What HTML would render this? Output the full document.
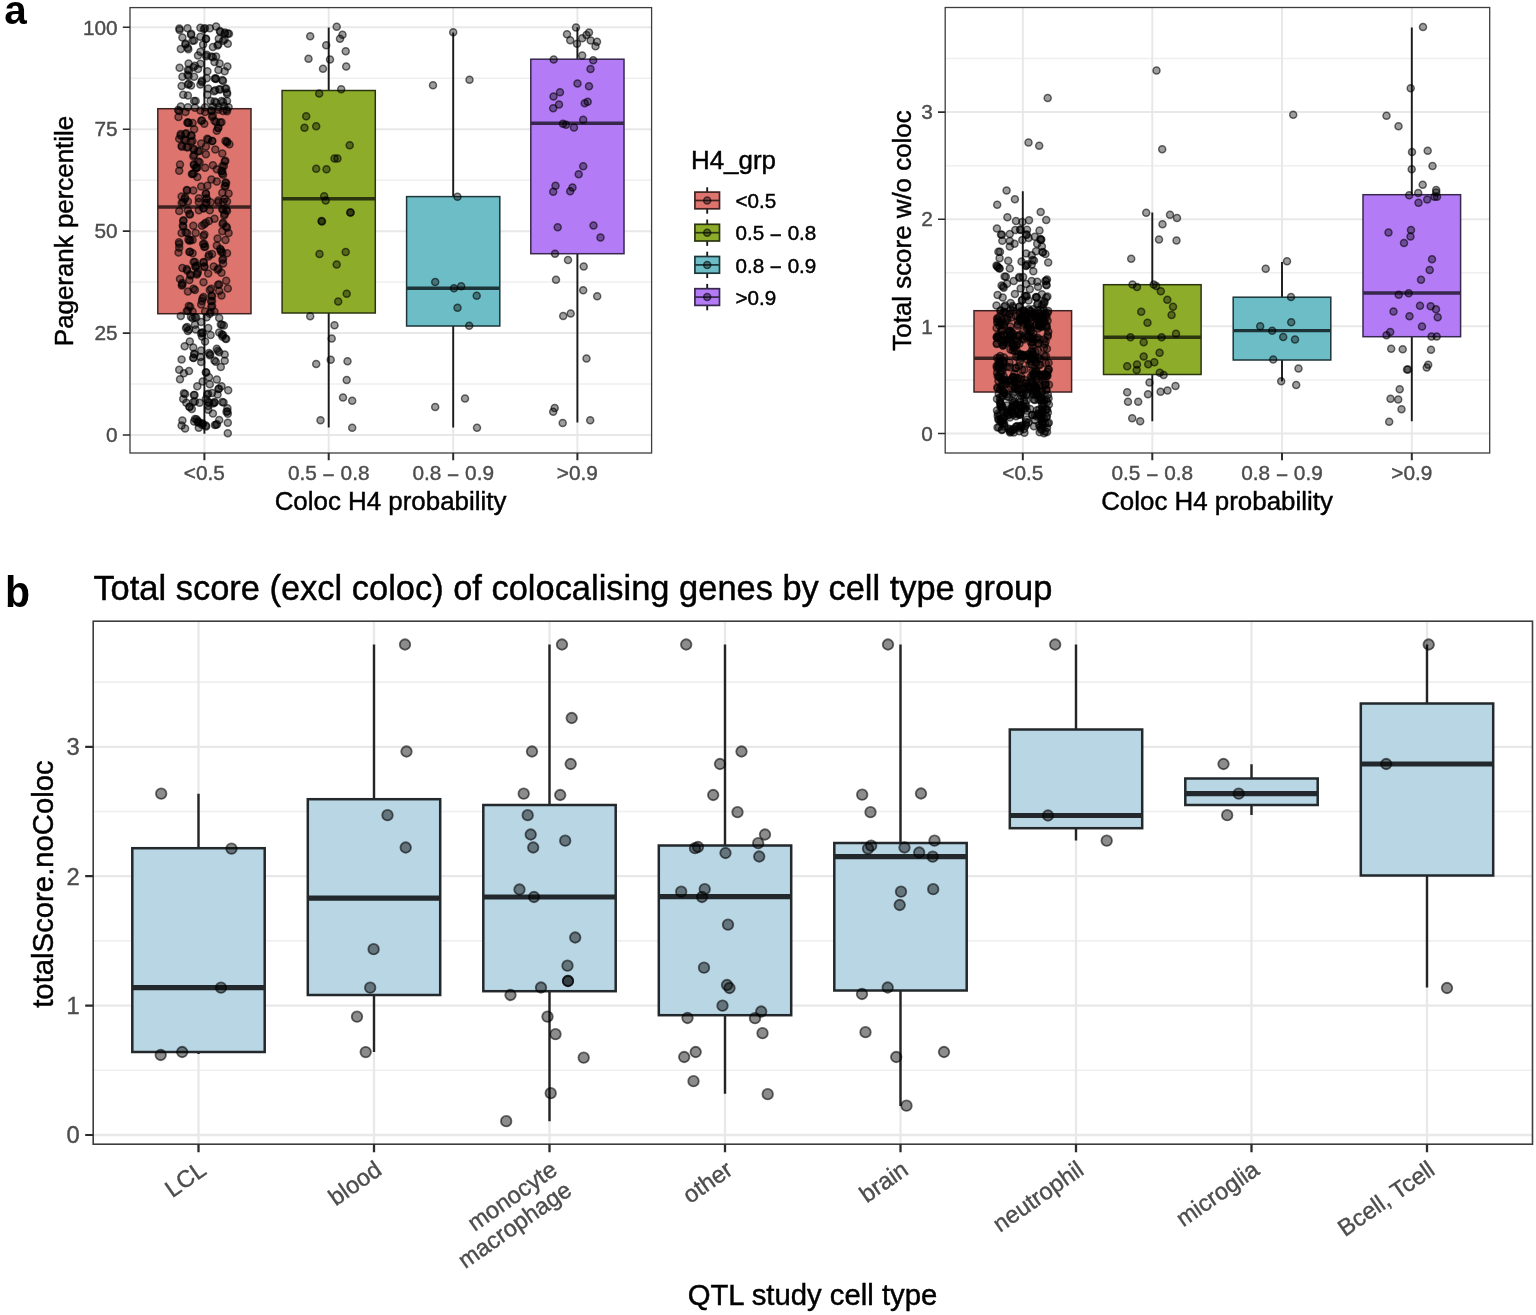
<!DOCTYPE html>
<html lang="en"><head><meta charset="utf-8"><title>Figure: colocalisation scores</title>
<style>html,body{margin:0;padding:0;background:#fff;}body{width:1536px;height:1315px;overflow:hidden;}svg{display:block;}text{font-family:'Liberation Sans', sans-serif;}</style>
</head><body>
<svg width="1536" height="1315" viewBox="0 0 1536 1315" role="img" aria-label="Box plots of Pagerank percentile and total score by coloc H4 probability group, and total score by QTL study cell type">
<rect width="1536" height="1315" fill="#fff"/>
<g id="panel-a-left">
<rect x="130" y="7.6" width="521.6" height="445.4" fill="#fff"/>
<g stroke="#efefef" stroke-width="1.5">
<line x1="130" x2="651.6" y1="384.07" y2="384.07"/>
<line x1="130" x2="651.6" y1="282.12" y2="282.12"/>
<line x1="130" x2="651.6" y1="180.17" y2="180.17"/>
<line x1="130" x2="651.6" y1="78.22" y2="78.22"/>
</g>
<g stroke="#e8e8e8" stroke-width="2.0">
<line x1="130" x2="651.6" y1="435.05" y2="435.05"/>
<line x1="130" x2="651.6" y1="333.1" y2="333.1"/>
<line x1="130" x2="651.6" y1="231.15" y2="231.15"/>
<line x1="130" x2="651.6" y1="129.2" y2="129.2"/>
<line x1="130" x2="651.6" y1="27.25" y2="27.25"/>
<line x1="204.4" x2="204.4" y1="7.6" y2="453"/>
<line x1="328.7" x2="328.7" y1="7.6" y2="453"/>
<line x1="453.2" x2="453.2" y1="7.6" y2="453"/>
<line x1="577.4" x2="577.4" y1="7.6" y2="453"/>
</g>
<g fill="none">
<path d="M204.4 27.2V108.7M204.4 313.7V433.7" stroke="#1a1a1a" stroke-width="1.9"/>
<rect x="157.8" y="108.7" width="93.2" height="205" fill="#de746e" stroke="#3f2321" stroke-width="1.5"/>
<line x1="157.8" x2="251" y1="207" y2="207" stroke="#3f2321" stroke-width="3.4"/>
</g>
<g fill="none">
<path d="M328.7 27.5V90.5M328.7 313V427.6" stroke="#1a1a1a" stroke-width="1.9"/>
<rect x="282.1" y="90.5" width="93.2" height="222.5" fill="#8cac2a" stroke="#2b3510" stroke-width="1.5"/>
<line x1="282.1" x2="375.3" y1="198.7" y2="198.7" stroke="#2b3510" stroke-width="3.4"/>
</g>
<g fill="none">
<path d="M453.2 32.5V196.6M453.2 326V427.6" stroke="#1a1a1a" stroke-width="1.9"/>
<rect x="406.6" y="196.6" width="93.2" height="129.4" fill="#6cbdc6" stroke="#1d3539" stroke-width="1.5"/>
<line x1="406.6" x2="499.8" y1="288.3" y2="288.3" stroke="#1d3539" stroke-width="3.4"/>
</g>
<g fill="none">
<path d="M577.4 27.2V59.2M577.4 253.7V422.6" stroke="#1a1a1a" stroke-width="1.9"/>
<rect x="530.8" y="59.2" width="93.2" height="194.5" fill="#b47bf7" stroke="#37284d" stroke-width="1.5"/>
<line x1="530.8" x2="624" y1="123.3" y2="123.3" stroke="#37284d" stroke-width="3.4"/>
</g>
<g fill="#000" fill-opacity="0.38" stroke="#000" stroke-opacity="0.58" stroke-width="1.5">
<circle cx="179.6" cy="30.1" r="3.5"/>
<circle cx="179.4" cy="28.6" r="3.5"/>
<circle cx="187.5" cy="28.2" r="3.5"/>
<circle cx="200.4" cy="27.8" r="3.5"/>
<circle cx="203.9" cy="29" r="3.5"/>
<circle cx="205" cy="28.3" r="3.5"/>
<circle cx="209.8" cy="28.2" r="3.5"/>
<circle cx="216.1" cy="26.6" r="3.5"/>
<circle cx="220.4" cy="32.1" r="3.5"/>
<circle cx="219.9" cy="31.1" r="3.5"/>
<circle cx="224.7" cy="33.7" r="3.5"/>
<circle cx="224.9" cy="32.6" r="3.5"/>
<circle cx="229" cy="33.7" r="3.5"/>
<circle cx="227.8" cy="33.5" r="3.5"/>
<circle cx="191" cy="34.8" r="3.5"/>
<circle cx="191.2" cy="33.8" r="3.5"/>
<circle cx="182.4" cy="37.6" r="3.5"/>
<circle cx="200.4" cy="36.8" r="3.5"/>
<circle cx="205.9" cy="39.1" r="3.5"/>
<circle cx="206.1" cy="38.7" r="3.5"/>
<circle cx="218.8" cy="38.8" r="3.5"/>
<circle cx="223.1" cy="40.7" r="3.5"/>
<circle cx="224.6" cy="39.4" r="3.5"/>
<circle cx="227.8" cy="43.8" r="3.5"/>
<circle cx="192.6" cy="40.7" r="3.5"/>
<circle cx="194.1" cy="40.4" r="3.5"/>
<circle cx="185.5" cy="44.6" r="3.5"/>
<circle cx="185.5" cy="43.5" r="3.5"/>
<circle cx="203.1" cy="44.6" r="3.5"/>
<circle cx="212.9" cy="47" r="3.5"/>
<circle cx="217.6" cy="45.4" r="3.5"/>
<circle cx="218.3" cy="44.4" r="3.5"/>
<circle cx="180.8" cy="48.9" r="3.5"/>
<circle cx="188.3" cy="49.3" r="3.5"/>
<circle cx="187.7" cy="47.8" r="3.5"/>
<circle cx="200.4" cy="51.7" r="3.5"/>
<circle cx="198" cy="55.6" r="3.5"/>
<circle cx="206.7" cy="54.8" r="3.5"/>
<circle cx="206.1" cy="56.3" r="3.5"/>
<circle cx="211.4" cy="56.4" r="3.5"/>
<circle cx="212.9" cy="57.2" r="3.5"/>
<circle cx="216.1" cy="56.4" r="3.5"/>
<circle cx="214.5" cy="61.9" r="3.5"/>
<circle cx="219.6" cy="63.4" r="3.5"/>
<circle cx="227.4" cy="66.6" r="3.5"/>
<circle cx="188.6" cy="63.4" r="3.5"/>
<circle cx="194.9" cy="65.8" r="3.5"/>
<circle cx="193.3" cy="67.2" r="3.5"/>
<circle cx="200.4" cy="63.8" r="3.5"/>
<circle cx="179.6" cy="67.7" r="3.5"/>
<circle cx="187.9" cy="69.7" r="3.5"/>
<circle cx="189.1" cy="70.6" r="3.5"/>
<circle cx="198" cy="68.9" r="3.5"/>
<circle cx="207.4" cy="71.3" r="3.5"/>
<circle cx="218.4" cy="70.1" r="3.5"/>
<circle cx="224.7" cy="71.3" r="3.5"/>
<circle cx="182.4" cy="76.7" r="3.5"/>
<circle cx="188.6" cy="76" r="3.5"/>
<circle cx="187.6" cy="74.7" r="3.5"/>
<circle cx="194.1" cy="76.7" r="3.5"/>
<circle cx="206.7" cy="78.3" r="3.5"/>
<circle cx="202" cy="80.7" r="3.5"/>
<circle cx="201.7" cy="81.9" r="3.5"/>
<circle cx="215.7" cy="78.3" r="3.5"/>
<circle cx="215.9" cy="79.1" r="3.5"/>
<circle cx="214.8" cy="78.4" r="3.5"/>
<circle cx="222.3" cy="79.9" r="3.5"/>
<circle cx="223" cy="80.9" r="3.5"/>
<circle cx="181.6" cy="86.1" r="3.5"/>
<circle cx="187.9" cy="84.6" r="3.5"/>
<circle cx="188.8" cy="83.7" r="3.5"/>
<circle cx="191" cy="85.4" r="3.5"/>
<circle cx="200.4" cy="84.6" r="3.5"/>
<circle cx="208.2" cy="88.5" r="3.5"/>
<circle cx="214.1" cy="91.2" r="3.5"/>
<circle cx="215.3" cy="90.3" r="3.5"/>
<circle cx="219.2" cy="89.3" r="3.5"/>
<circle cx="220.2" cy="89.5" r="3.5"/>
<circle cx="226.2" cy="88.5" r="3.5"/>
<circle cx="225.2" cy="88.8" r="3.5"/>
<circle cx="227" cy="92.4" r="3.5"/>
<circle cx="227.1" cy="93.9" r="3.5"/>
<circle cx="183.2" cy="94.8" r="3.5"/>
<circle cx="187.9" cy="95.5" r="3.5"/>
<circle cx="207.4" cy="94.8" r="3.5"/>
<circle cx="194.1" cy="101" r="3.5"/>
<circle cx="195.7" cy="101" r="3.5"/>
<circle cx="210.6" cy="101" r="3.5"/>
<circle cx="216.1" cy="102.6" r="3.5"/>
<circle cx="214.6" cy="101.5" r="3.5"/>
<circle cx="221.5" cy="101" r="3.5"/>
<circle cx="223.1" cy="102.1" r="3.5"/>
<circle cx="227" cy="101" r="3.5"/>
<circle cx="180.8" cy="106.6" r="3.5"/>
<circle cx="187.9" cy="107.3" r="3.5"/>
<circle cx="194.9" cy="107.7" r="3.5"/>
<circle cx="205.1" cy="107.3" r="3.5"/>
<circle cx="212.9" cy="106.6" r="3.5"/>
<circle cx="218.4" cy="107.3" r="3.5"/>
<circle cx="223.9" cy="105.8" r="3.5"/>
<circle cx="228.6" cy="107.3" r="3.5"/>
<circle cx="179.2" cy="110.9" r="3.5"/>
<circle cx="178.1" cy="110" r="3.5"/>
<circle cx="185.5" cy="112" r="3.5"/>
<circle cx="200.4" cy="110.5" r="3.5"/>
<circle cx="205.1" cy="112" r="3.5"/>
<circle cx="211.4" cy="111.3" r="3.5"/>
<circle cx="211.5" cy="110.2" r="3.5"/>
<circle cx="218.4" cy="109.7" r="3.5"/>
<circle cx="223.1" cy="110.9" r="3.5"/>
<circle cx="227" cy="111.3" r="3.5"/>
<circle cx="226.5" cy="109.8" r="3.5"/>
<circle cx="178.5" cy="117.1" r="3.5"/>
<circle cx="212.1" cy="116.7" r="3.5"/>
<circle cx="212.8" cy="115.4" r="3.5"/>
<circle cx="214.5" cy="120.7" r="3.5"/>
<circle cx="216.1" cy="122" r="3.5"/>
<circle cx="187.9" cy="122.2" r="3.5"/>
<circle cx="188.8" cy="123.1" r="3.5"/>
<circle cx="187.4" cy="122.8" r="3.5"/>
<circle cx="192.6" cy="123" r="3.5"/>
<circle cx="201.2" cy="120.7" r="3.5"/>
<circle cx="202" cy="120.6" r="3.5"/>
<circle cx="204.3" cy="123.8" r="3.5"/>
<circle cx="221.5" cy="122.2" r="3.5"/>
<circle cx="220.1" cy="122.6" r="3.5"/>
<circle cx="218.4" cy="127.7" r="3.5"/>
<circle cx="217.9" cy="128.1" r="3.5"/>
<circle cx="216.8" cy="130.8" r="3.5"/>
<circle cx="194.1" cy="129.3" r="3.5"/>
<circle cx="180.8" cy="134" r="3.5"/>
<circle cx="180.6" cy="135.4" r="3.5"/>
<circle cx="186.3" cy="133.2" r="3.5"/>
<circle cx="185.3" cy="134.1" r="3.5"/>
<circle cx="191" cy="135.5" r="3.5"/>
<circle cx="191.6" cy="135.7" r="3.5"/>
<circle cx="179.2" cy="138.7" r="3.5"/>
<circle cx="185.5" cy="140.2" r="3.5"/>
<circle cx="184.2" cy="139.2" r="3.5"/>
<circle cx="191" cy="141.8" r="3.5"/>
<circle cx="192.5" cy="141" r="3.5"/>
<circle cx="208.2" cy="139.5" r="3.5"/>
<circle cx="207.2" cy="138.8" r="3.5"/>
<circle cx="212.1" cy="141" r="3.5"/>
<circle cx="212.3" cy="141.1" r="3.5"/>
<circle cx="201.2" cy="143.4" r="3.5"/>
<circle cx="227" cy="142.6" r="3.5"/>
<circle cx="225.4" cy="141" r="3.5"/>
<circle cx="227" cy="141.6" r="3.5"/>
<circle cx="229.4" cy="144.2" r="3.5"/>
<circle cx="181.6" cy="145.7" r="3.5"/>
<circle cx="181.9" cy="146.7" r="3.5"/>
<circle cx="187.9" cy="147.3" r="3.5"/>
<circle cx="186.6" cy="147.3" r="3.5"/>
<circle cx="194.1" cy="148.9" r="3.5"/>
<circle cx="193.8" cy="149.8" r="3.5"/>
<circle cx="198" cy="151.2" r="3.5"/>
<circle cx="199.5" cy="150.9" r="3.5"/>
<circle cx="205.9" cy="146.5" r="3.5"/>
<circle cx="215.3" cy="149.6" r="3.5"/>
<circle cx="222.3" cy="153.6" r="3.5"/>
<circle cx="205.9" cy="154.3" r="3.5"/>
<circle cx="194.1" cy="155.1" r="3.5"/>
<circle cx="193.3" cy="156.3" r="3.5"/>
<circle cx="180" cy="164.5" r="3.5"/>
<circle cx="179.2" cy="170.8" r="3.5"/>
<circle cx="199.6" cy="162.2" r="3.5"/>
<circle cx="198.1" cy="161.6" r="3.5"/>
<circle cx="194.1" cy="165.3" r="3.5"/>
<circle cx="193.8" cy="164.3" r="3.5"/>
<circle cx="196.5" cy="167.7" r="3.5"/>
<circle cx="197.1" cy="167.7" r="3.5"/>
<circle cx="195.7" cy="167.4" r="3.5"/>
<circle cx="205.1" cy="167.7" r="3.5"/>
<circle cx="212.9" cy="165.3" r="3.5"/>
<circle cx="216.8" cy="169.2" r="3.5"/>
<circle cx="224.7" cy="161.4" r="3.5"/>
<circle cx="225.3" cy="160.8" r="3.5"/>
<circle cx="223.9" cy="166.1" r="3.5"/>
<circle cx="222.5" cy="166" r="3.5"/>
<circle cx="222.3" cy="170.8" r="3.5"/>
<circle cx="221.4" cy="171.2" r="3.5"/>
<circle cx="223.1" cy="174.7" r="3.5"/>
<circle cx="222.2" cy="173.5" r="3.5"/>
<circle cx="192.6" cy="173.9" r="3.5"/>
<circle cx="193.8" cy="173.4" r="3.5"/>
<circle cx="191.9" cy="174.1" r="3.5"/>
<circle cx="197.3" cy="177.1" r="3.5"/>
<circle cx="211.4" cy="179.4" r="3.5"/>
<circle cx="216.8" cy="181.4" r="3.5"/>
<circle cx="225.5" cy="182.5" r="3.5"/>
<circle cx="226.1" cy="183.1" r="3.5"/>
<circle cx="224.7" cy="186.5" r="3.5"/>
<circle cx="225.6" cy="185.7" r="3.5"/>
<circle cx="201.2" cy="186.5" r="3.5"/>
<circle cx="207.4" cy="185.7" r="3.5"/>
<circle cx="187.1" cy="190.4" r="3.5"/>
<circle cx="186.8" cy="189.9" r="3.5"/>
<circle cx="193.3" cy="190.4" r="3.5"/>
<circle cx="222.3" cy="192.7" r="3.5"/>
<circle cx="228.6" cy="193.5" r="3.5"/>
<circle cx="205.9" cy="193.5" r="3.5"/>
<circle cx="205.9" cy="193.7" r="3.5"/>
<circle cx="181.6" cy="196.6" r="3.5"/>
<circle cx="184.7" cy="199" r="3.5"/>
<circle cx="185.1" cy="197.6" r="3.5"/>
<circle cx="198.8" cy="198.2" r="3.5"/>
<circle cx="206.7" cy="198.2" r="3.5"/>
<circle cx="206.3" cy="198.9" r="3.5"/>
<circle cx="218.4" cy="200.6" r="3.5"/>
<circle cx="224.7" cy="199" r="3.5"/>
<circle cx="183.2" cy="202.3" r="3.5"/>
<circle cx="181.7" cy="203.1" r="3.5"/>
<circle cx="187.9" cy="201.6" r="3.5"/>
<circle cx="198.8" cy="202" r="3.5"/>
<circle cx="205.9" cy="203.1" r="3.5"/>
<circle cx="206.5" cy="202.8" r="3.5"/>
<circle cx="210.6" cy="202.3" r="3.5"/>
<circle cx="218.4" cy="202.3" r="3.5"/>
<circle cx="223.1" cy="202" r="3.5"/>
<circle cx="227" cy="201.6" r="3.5"/>
<circle cx="179.2" cy="211" r="3.5"/>
<circle cx="187.9" cy="210.2" r="3.5"/>
<circle cx="198.8" cy="210.2" r="3.5"/>
<circle cx="203.5" cy="208.6" r="3.5"/>
<circle cx="203.4" cy="207.9" r="3.5"/>
<circle cx="209.8" cy="210.2" r="3.5"/>
<circle cx="222.3" cy="209.4" r="3.5"/>
<circle cx="223.1" cy="209.3" r="3.5"/>
<circle cx="227" cy="211" r="3.5"/>
<circle cx="226.3" cy="209.5" r="3.5"/>
<circle cx="224.7" cy="214.1" r="3.5"/>
<circle cx="224.2" cy="215.4" r="3.5"/>
<circle cx="189.4" cy="214.1" r="3.5"/>
<circle cx="190" cy="214.5" r="3.5"/>
<circle cx="214.5" cy="218.8" r="3.5"/>
<circle cx="209" cy="221.1" r="3.5"/>
<circle cx="204.3" cy="224.3" r="3.5"/>
<circle cx="205.7" cy="222.8" r="3.5"/>
<circle cx="202" cy="225.8" r="3.5"/>
<circle cx="183.2" cy="221.1" r="3.5"/>
<circle cx="183.5" cy="220.2" r="3.5"/>
<circle cx="183.2" cy="226.6" r="3.5"/>
<circle cx="182.8" cy="225.6" r="3.5"/>
<circle cx="193.3" cy="225.8" r="3.5"/>
<circle cx="223.1" cy="222.7" r="3.5"/>
<circle cx="222.6" cy="224" r="3.5"/>
<circle cx="226.2" cy="226.6" r="3.5"/>
<circle cx="227" cy="227.7" r="3.5"/>
<circle cx="222.3" cy="231.3" r="3.5"/>
<circle cx="228.6" cy="232.9" r="3.5"/>
<circle cx="181.6" cy="232.9" r="3.5"/>
<circle cx="187.1" cy="232.9" r="3.5"/>
<circle cx="185.7" cy="232.3" r="3.5"/>
<circle cx="195.7" cy="232.9" r="3.5"/>
<circle cx="203.5" cy="236" r="3.5"/>
<circle cx="204.4" cy="234.6" r="3.5"/>
<circle cx="217.6" cy="238.4" r="3.5"/>
<circle cx="225.5" cy="239.9" r="3.5"/>
<circle cx="189.4" cy="240.7" r="3.5"/>
<circle cx="188.4" cy="239.4" r="3.5"/>
<circle cx="190.4" cy="239.9" r="3.5"/>
<circle cx="192.6" cy="239.9" r="3.5"/>
<circle cx="179.2" cy="243.9" r="3.5"/>
<circle cx="179" cy="242.3" r="3.5"/>
<circle cx="179.2" cy="247.8" r="3.5"/>
<circle cx="204.3" cy="243.9" r="3.5"/>
<circle cx="203.1" cy="243.9" r="3.5"/>
<circle cx="204.3" cy="247" r="3.5"/>
<circle cx="205.2" cy="246.5" r="3.5"/>
<circle cx="216.8" cy="245.4" r="3.5"/>
<circle cx="220.8" cy="250.1" r="3.5"/>
<circle cx="220.2" cy="248.7" r="3.5"/>
<circle cx="222.3" cy="252.5" r="3.5"/>
<circle cx="221" cy="251.4" r="3.5"/>
<circle cx="227" cy="253.3" r="3.5"/>
<circle cx="190.2" cy="251.7" r="3.5"/>
<circle cx="189.3" cy="251.9" r="3.5"/>
<circle cx="192.6" cy="253.3" r="3.5"/>
<circle cx="178.5" cy="252.5" r="3.5"/>
<circle cx="209" cy="254.8" r="3.5"/>
<circle cx="208.6" cy="256.4" r="3.5"/>
<circle cx="212.1" cy="254" r="3.5"/>
<circle cx="223.1" cy="258.7" r="3.5"/>
<circle cx="222.4" cy="259.9" r="3.5"/>
<circle cx="223.1" cy="263.4" r="3.5"/>
<circle cx="194.9" cy="261.9" r="3.5"/>
<circle cx="193.6" cy="262" r="3.5"/>
<circle cx="203.5" cy="261.9" r="3.5"/>
<circle cx="203.7" cy="262.4" r="3.5"/>
<circle cx="195.7" cy="266.6" r="3.5"/>
<circle cx="195.4" cy="266.7" r="3.5"/>
<circle cx="196.6" cy="265.5" r="3.5"/>
<circle cx="204.3" cy="266.6" r="3.5"/>
<circle cx="204.4" cy="266.9" r="3.5"/>
<circle cx="213.7" cy="266.6" r="3.5"/>
<circle cx="217.6" cy="269.7" r="3.5"/>
<circle cx="218.5" cy="268.6" r="3.5"/>
<circle cx="221.5" cy="272.8" r="3.5"/>
<circle cx="182.4" cy="268.1" r="3.5"/>
<circle cx="187.1" cy="270.5" r="3.5"/>
<circle cx="186.8" cy="269" r="3.5"/>
<circle cx="190.2" cy="274.4" r="3.5"/>
<circle cx="190.7" cy="275.6" r="3.5"/>
<circle cx="197.3" cy="273.6" r="3.5"/>
<circle cx="196.8" cy="274.6" r="3.5"/>
<circle cx="197.8" cy="272.1" r="3.5"/>
<circle cx="208.2" cy="273.6" r="3.5"/>
<circle cx="180" cy="279.1" r="3.5"/>
<circle cx="189.4" cy="279.9" r="3.5"/>
<circle cx="182.4" cy="284.6" r="3.5"/>
<circle cx="182.3" cy="283.1" r="3.5"/>
<circle cx="181.8" cy="285.6" r="3.5"/>
<circle cx="203.5" cy="282.2" r="3.5"/>
<circle cx="226.2" cy="280.7" r="3.5"/>
<circle cx="219.2" cy="284.6" r="3.5"/>
<circle cx="218" cy="284.8" r="3.5"/>
<circle cx="227.8" cy="288.5" r="3.5"/>
<circle cx="187.9" cy="291.6" r="3.5"/>
<circle cx="194.9" cy="290.1" r="3.5"/>
<circle cx="193.5" cy="288.8" r="3.5"/>
<circle cx="209.8" cy="290.1" r="3.5"/>
<circle cx="211.2" cy="288.8" r="3.5"/>
<circle cx="219.2" cy="290.9" r="3.5"/>
<circle cx="203.5" cy="297.1" r="3.5"/>
<circle cx="202.5" cy="298.5" r="3.5"/>
<circle cx="212.1" cy="296.3" r="3.5"/>
<circle cx="211.5" cy="295.4" r="3.5"/>
<circle cx="221.5" cy="295.6" r="3.5"/>
<circle cx="212.1" cy="301" r="3.5"/>
<circle cx="210.9" cy="301" r="3.5"/>
<circle cx="202" cy="301" r="3.5"/>
<circle cx="201.2" cy="304.4" r="3.5"/>
<circle cx="190.2" cy="306.7" r="3.5"/>
<circle cx="188.8" cy="305.9" r="3.5"/>
<circle cx="212.1" cy="306" r="3.5"/>
<circle cx="211.3" cy="306.8" r="3.5"/>
<circle cx="187.9" cy="310.7" r="3.5"/>
<circle cx="186.8" cy="310.9" r="3.5"/>
<circle cx="192.6" cy="311.4" r="3.5"/>
<circle cx="205.1" cy="311.4" r="3.5"/>
<circle cx="210.6" cy="312.2" r="3.5"/>
<circle cx="209.8" cy="313.8" r="3.5"/>
<circle cx="214.5" cy="311.8" r="3.5"/>
<circle cx="180.8" cy="316.1" r="3.5"/>
<circle cx="191" cy="316.9" r="3.5"/>
<circle cx="192.6" cy="318.3" r="3.5"/>
<circle cx="194.9" cy="317.3" r="3.5"/>
<circle cx="196.2" cy="317.5" r="3.5"/>
<circle cx="206.7" cy="317.3" r="3.5"/>
<circle cx="219.2" cy="318.1" r="3.5"/>
<circle cx="201.2" cy="322" r="3.5"/>
<circle cx="194.9" cy="324.8" r="3.5"/>
<circle cx="220.8" cy="324.4" r="3.5"/>
<circle cx="222.1" cy="324.8" r="3.5"/>
<circle cx="223.9" cy="325.5" r="3.5"/>
<circle cx="187.1" cy="327.1" r="3.5"/>
<circle cx="186" cy="327.9" r="3.5"/>
<circle cx="187.9" cy="331" r="3.5"/>
<circle cx="189" cy="329.5" r="3.5"/>
<circle cx="195.7" cy="329.5" r="3.5"/>
<circle cx="208.2" cy="327.9" r="3.5"/>
<circle cx="202" cy="332.6" r="3.5"/>
<circle cx="201" cy="333.5" r="3.5"/>
<circle cx="202.8" cy="332.8" r="3.5"/>
<circle cx="202" cy="336.5" r="3.5"/>
<circle cx="210.6" cy="334.9" r="3.5"/>
<circle cx="219.2" cy="332.6" r="3.5"/>
<circle cx="223.1" cy="334.9" r="3.5"/>
<circle cx="221.9" cy="334.2" r="3.5"/>
<circle cx="222.3" cy="336.5" r="3.5"/>
<circle cx="226.2" cy="338.9" r="3.5"/>
<circle cx="225.4" cy="338.4" r="3.5"/>
<circle cx="189.8" cy="341.6" r="3.5"/>
<circle cx="205.1" cy="341.6" r="3.5"/>
<circle cx="184.7" cy="346.3" r="3.5"/>
<circle cx="193.3" cy="347.5" r="3.5"/>
<circle cx="201.2" cy="350.6" r="3.5"/>
<circle cx="216.8" cy="348.7" r="3.5"/>
<circle cx="194.1" cy="353.7" r="3.5"/>
<circle cx="194.7" cy="354.3" r="3.5"/>
<circle cx="193.3" cy="357.7" r="3.5"/>
<circle cx="193.5" cy="358.1" r="3.5"/>
<circle cx="209" cy="353" r="3.5"/>
<circle cx="210.2" cy="354.3" r="3.5"/>
<circle cx="209.8" cy="355.3" r="3.5"/>
<circle cx="219.2" cy="352.2" r="3.5"/>
<circle cx="217.9" cy="350.7" r="3.5"/>
<circle cx="224.7" cy="354.5" r="3.5"/>
<circle cx="200.4" cy="356.9" r="3.5"/>
<circle cx="181.6" cy="359.6" r="3.5"/>
<circle cx="201.2" cy="362" r="3.5"/>
<circle cx="214.5" cy="360.4" r="3.5"/>
<circle cx="215.8" cy="361.7" r="3.5"/>
<circle cx="224.7" cy="360.8" r="3.5"/>
<circle cx="220.8" cy="367.1" r="3.5"/>
<circle cx="179.2" cy="369.8" r="3.5"/>
<circle cx="189" cy="371" r="3.5"/>
<circle cx="183.9" cy="373.3" r="3.5"/>
<circle cx="206.3" cy="372.5" r="3.5"/>
<circle cx="205.8" cy="372.2" r="3.5"/>
<circle cx="180" cy="379.2" r="3.5"/>
<circle cx="209" cy="377.2" r="3.5"/>
<circle cx="216.8" cy="379.6" r="3.5"/>
<circle cx="202.7" cy="381.6" r="3.5"/>
<circle cx="209.8" cy="384.3" r="3.5"/>
<circle cx="197.3" cy="386.3" r="3.5"/>
<circle cx="221.5" cy="386.3" r="3.5"/>
<circle cx="218.4" cy="389" r="3.5"/>
<circle cx="219" cy="388.7" r="3.5"/>
<circle cx="228.2" cy="390.2" r="3.5"/>
<circle cx="185.1" cy="394.1" r="3.5"/>
<circle cx="183.9" cy="393.3" r="3.5"/>
<circle cx="194.5" cy="394.9" r="3.5"/>
<circle cx="193.9" cy="395.1" r="3.5"/>
<circle cx="208.2" cy="393.7" r="3.5"/>
<circle cx="207.2" cy="394.4" r="3.5"/>
<circle cx="212.1" cy="392.9" r="3.5"/>
<circle cx="217.6" cy="394.5" r="3.5"/>
<circle cx="183.2" cy="398.9" r="3.5"/>
<circle cx="186.3" cy="402.8" r="3.5"/>
<circle cx="193.3" cy="402" r="3.5"/>
<circle cx="194.9" cy="401.6" r="3.5"/>
<circle cx="189.4" cy="406.7" r="3.5"/>
<circle cx="189.7" cy="407.1" r="3.5"/>
<circle cx="191.8" cy="409" r="3.5"/>
<circle cx="199.6" cy="402.8" r="3.5"/>
<circle cx="205.9" cy="398.9" r="3.5"/>
<circle cx="208.2" cy="402" r="3.5"/>
<circle cx="209.2" cy="402.4" r="3.5"/>
<circle cx="214.5" cy="402" r="3.5"/>
<circle cx="214.5" cy="402.7" r="3.5"/>
<circle cx="213" cy="403.4" r="3.5"/>
<circle cx="222.3" cy="402" r="3.5"/>
<circle cx="223.6" cy="402.6" r="3.5"/>
<circle cx="208.2" cy="405.9" r="3.5"/>
<circle cx="208.2" cy="409.8" r="3.5"/>
<circle cx="212.9" cy="413.4" r="3.5"/>
<circle cx="227.4" cy="408.3" r="3.5"/>
<circle cx="227.4" cy="411.4" r="3.5"/>
<circle cx="226.5" cy="411.8" r="3.5"/>
<circle cx="227.8" cy="413.7" r="3.5"/>
<circle cx="182.4" cy="420.4" r="3.5"/>
<circle cx="181.6" cy="425.5" r="3.5"/>
<circle cx="185.1" cy="428.6" r="3.5"/>
<circle cx="194.1" cy="421.6" r="3.5"/>
<circle cx="196.5" cy="419.2" r="3.5"/>
<circle cx="195" cy="418.9" r="3.5"/>
<circle cx="198.8" cy="422.4" r="3.5"/>
<circle cx="197.9" cy="422.6" r="3.5"/>
<circle cx="198" cy="421.1" r="3.5"/>
<circle cx="202" cy="424.7" r="3.5"/>
<circle cx="202.9" cy="423.9" r="3.5"/>
<circle cx="202.2" cy="423.2" r="3.5"/>
<circle cx="205.9" cy="425.5" r="3.5"/>
<circle cx="206.1" cy="426.4" r="3.5"/>
<circle cx="198.8" cy="427.8" r="3.5"/>
<circle cx="216.1" cy="424.7" r="3.5"/>
<circle cx="217" cy="424.2" r="3.5"/>
<circle cx="214.9" cy="425.1" r="3.5"/>
<circle cx="219.2" cy="420" r="3.5"/>
<circle cx="227.8" cy="422.8" r="3.5"/>
<circle cx="227.8" cy="433.3" r="3.5"/>
</g>
<g fill="#000" fill-opacity="0.38" stroke="#000" stroke-opacity="0.58" stroke-width="1.5">
<circle cx="336.7" cy="26.7" r="3.5"/>
<circle cx="310.2" cy="36.2" r="3.5"/>
<circle cx="342.5" cy="34.7" r="3.5"/>
<circle cx="340" cy="38.7" r="3.5"/>
<circle cx="326.2" cy="45.2" r="3.5"/>
<circle cx="345.7" cy="51.2" r="3.5"/>
<circle cx="308.5" cy="58.7" r="3.5"/>
<circle cx="330" cy="59.5" r="3.5"/>
<circle cx="346.2" cy="66.5" r="3.5"/>
<circle cx="323" cy="68.7" r="3.5"/>
<circle cx="341.2" cy="89.2" r="3.5"/>
<circle cx="319.2" cy="93.5" r="3.5"/>
<circle cx="306.2" cy="116.2" r="3.5"/>
<circle cx="304.5" cy="127.7" r="3.5"/>
<circle cx="316.2" cy="126.2" r="3.5"/>
<circle cx="349.7" cy="145.2" r="3.5"/>
<circle cx="334.5" cy="158.5" r="3.5"/>
<circle cx="337.5" cy="158.5" r="3.5"/>
<circle cx="316.2" cy="168.7" r="3.5"/>
<circle cx="326.5" cy="169.2" r="3.5"/>
<circle cx="324.2" cy="196.2" r="3.5"/>
<circle cx="325.7" cy="200.5" r="3.5"/>
<circle cx="350.7" cy="212.5" r="3.5"/>
<circle cx="350.2" cy="212.5" r="3.5"/>
<circle cx="322" cy="221.5" r="3.5"/>
<circle cx="321.5" cy="221" r="3.5"/>
<circle cx="319.5" cy="254" r="3.5"/>
<circle cx="345.7" cy="252" r="3.5"/>
<circle cx="336.7" cy="264.5" r="3.5"/>
<circle cx="346.7" cy="293.7" r="3.5"/>
<circle cx="338.2" cy="301.5" r="3.5"/>
<circle cx="310.2" cy="316.2" r="3.5"/>
<circle cx="334.5" cy="325.2" r="3.5"/>
<circle cx="331.7" cy="338.5" r="3.5"/>
<circle cx="330.7" cy="359.7" r="3.5"/>
<circle cx="316.2" cy="364" r="3.5"/>
<circle cx="347.5" cy="361.2" r="3.5"/>
<circle cx="346.7" cy="380" r="3.5"/>
<circle cx="343" cy="397.5" r="3.5"/>
<circle cx="352.2" cy="400.7" r="3.5"/>
<circle cx="320.5" cy="420.2" r="3.5"/>
<circle cx="352.2" cy="427.7" r="3.5"/>
</g>
<g fill="#000" fill-opacity="0.38" stroke="#000" stroke-opacity="0.58" stroke-width="1.5">
<circle cx="453.2" cy="32.2" r="3.5"/>
<circle cx="433" cy="85.2" r="3.5"/>
<circle cx="469.5" cy="79.7" r="3.5"/>
<circle cx="457.5" cy="196.7" r="3.5"/>
<circle cx="435.2" cy="282" r="3.5"/>
<circle cx="454" cy="288.2" r="3.5"/>
<circle cx="461.2" cy="286.2" r="3.5"/>
<circle cx="476.7" cy="295.7" r="3.5"/>
<circle cx="457.5" cy="307.7" r="3.5"/>
<circle cx="469.2" cy="325.7" r="3.5"/>
<circle cx="465" cy="398.5" r="3.5"/>
<circle cx="435.2" cy="407" r="3.5"/>
<circle cx="477" cy="427.7" r="3.5"/>
</g>
<g fill="#000" fill-opacity="0.38" stroke="#000" stroke-opacity="0.58" stroke-width="1.5">
<circle cx="576" cy="27.5" r="3.5"/>
<circle cx="567" cy="34.2" r="3.5"/>
<circle cx="589" cy="32.5" r="3.5"/>
<circle cx="586.5" cy="35" r="3.5"/>
<circle cx="582.2" cy="38.2" r="3.5"/>
<circle cx="570.2" cy="40.2" r="3.5"/>
<circle cx="590.7" cy="40.5" r="3.5"/>
<circle cx="597" cy="41.7" r="3.5"/>
<circle cx="577" cy="43.7" r="3.5"/>
<circle cx="595.5" cy="46.2" r="3.5"/>
<circle cx="582.2" cy="55.5" r="3.5"/>
<circle cx="553.7" cy="59.5" r="3.5"/>
<circle cx="593.2" cy="60.2" r="3.5"/>
<circle cx="590.5" cy="69" r="3.5"/>
<circle cx="577.5" cy="83.5" r="3.5"/>
<circle cx="589" cy="86.2" r="3.5"/>
<circle cx="560" cy="92.2" r="3.5"/>
<circle cx="553.5" cy="96.5" r="3.5"/>
<circle cx="587.7" cy="101.7" r="3.5"/>
<circle cx="584.7" cy="103.2" r="3.5"/>
<circle cx="559" cy="104.5" r="3.5"/>
<circle cx="553.2" cy="108.2" r="3.5"/>
<circle cx="583.2" cy="119.7" r="3.5"/>
<circle cx="563" cy="123.7" r="3.5"/>
<circle cx="566" cy="124.7" r="3.5"/>
<circle cx="574" cy="127.5" r="3.5"/>
<circle cx="583.2" cy="166.2" r="3.5"/>
<circle cx="578.7" cy="174.2" r="3.5"/>
<circle cx="555.5" cy="185.7" r="3.5"/>
<circle cx="572.5" cy="187.5" r="3.5"/>
<circle cx="570.2" cy="191.2" r="3.5"/>
<circle cx="553.2" cy="191.7" r="3.5"/>
<circle cx="557.7" cy="227.2" r="3.5"/>
<circle cx="593.5" cy="225.5" r="3.5"/>
<circle cx="600.5" cy="237.4" r="3.5"/>
<circle cx="555" cy="253.7" r="3.5"/>
<circle cx="568" cy="260" r="3.5"/>
<circle cx="583.7" cy="266.5" r="3.5"/>
<circle cx="556" cy="279.7" r="3.5"/>
<circle cx="583.2" cy="290.2" r="3.5"/>
<circle cx="597.2" cy="296.2" r="3.5"/>
<circle cx="570.7" cy="313.5" r="3.5"/>
<circle cx="563.2" cy="316" r="3.5"/>
<circle cx="586.5" cy="358.5" r="3.5"/>
<circle cx="554.7" cy="408" r="3.5"/>
<circle cx="553.2" cy="411.7" r="3.5"/>
<circle cx="562.7" cy="423" r="3.5"/>
<circle cx="590.2" cy="420.2" r="3.5"/>
</g>
<rect x="130" y="7.6" width="521.6" height="445.4" fill="none" stroke="#3d3d3d" stroke-width="1.3"/>
<path d="M122.8 435.05H130M122.8 333.1H130M122.8 231.15H130M122.8 129.2H130M122.8 27.25H130" stroke="#2b2b2b" stroke-width="1.6" fill="none"/>
<text transform="translate(117.6,442.3)" font-size="20.8" text-anchor="end" fill="#4d4d4d" stroke="#4d4d4d" stroke-width="0.4">0</text>
<text transform="translate(117.6,340.35)" font-size="20.8" text-anchor="end" fill="#4d4d4d" stroke="#4d4d4d" stroke-width="0.4">25</text>
<text transform="translate(117.6,238.4)" font-size="20.8" text-anchor="end" fill="#4d4d4d" stroke="#4d4d4d" stroke-width="0.4">50</text>
<text transform="translate(117.6,136.45)" font-size="20.8" text-anchor="end" fill="#4d4d4d" stroke="#4d4d4d" stroke-width="0.4">75</text>
<text transform="translate(117.6,34.5)" font-size="20.8" text-anchor="end" fill="#4d4d4d" stroke="#4d4d4d" stroke-width="0.4">100</text>
<path d="M204.4 453V460.2M328.7 453V460.2M453.2 453V460.2M577.4 453V460.2" stroke="#2b2b2b" stroke-width="2.0" fill="none"/>
<text transform="translate(204.4,480.2)" font-size="20.8" text-anchor="middle" fill="#4d4d4d" stroke="#4d4d4d" stroke-width="0.4">&lt;0.5</text>
<text transform="translate(328.7,480.2)" font-size="20.8" text-anchor="middle" fill="#4d4d4d" stroke="#4d4d4d" stroke-width="0.4">0.5 <tspan dy="1.5">−</tspan><tspan dy="-1.5"> </tspan>0.8</text>
<text transform="translate(453.2,480.2)" font-size="20.8" text-anchor="middle" fill="#4d4d4d" stroke="#4d4d4d" stroke-width="0.4">0.8 <tspan dy="1.5">−</tspan><tspan dy="-1.5"> </tspan>0.9</text>
<text transform="translate(577.4,480.2)" font-size="20.8" text-anchor="middle" fill="#4d4d4d" stroke="#4d4d4d" stroke-width="0.4">&gt;0.9</text>
<text transform="translate(390.5,510.4)" font-size="25.9" text-anchor="middle" fill="#000" stroke="#000" stroke-width="0.45">Coloc H4 probability</text>
<text transform="translate(72.6,231) rotate(-90)" font-size="25.9" text-anchor="middle" fill="#000" stroke="#000" stroke-width="0.45">Pagerank percentile</text>
</g>
<g id="legend">
<text transform="translate(691,169.2)" font-size="25.9" fill="#000" stroke="#000" stroke-width="0.45">H4_grp</text>
<g stroke="#3f2321" stroke-width="1.7">
<line x1="707.2" x2="707.2" y1="187.3" y2="213.7" stroke="#1c1c1c" stroke-width="1.9"/>
<rect x="694.9" y="192.1" width="24.6" height="16.7" fill="#de746e"/>
<line x1="694.9" x2="719.5" y1="200.5" y2="200.5"/>
</g>
<circle cx="707.2" cy="200.5" r="3.5" fill="#000" fill-opacity="0.38" stroke="#000" stroke-opacity="0.58" stroke-width="1.5"/>
<text transform="translate(735.5,208.2)" font-size="20.6" fill="#000" stroke="#000" stroke-width="0.45">&lt;0.5</text>
<g stroke="#2b3510" stroke-width="1.7">
<line x1="707.2" x2="707.2" y1="219.5" y2="245.9" stroke="#1c1c1c" stroke-width="1.9"/>
<rect x="694.9" y="224.3" width="24.6" height="16.7" fill="#8cac2a"/>
<line x1="694.9" x2="719.5" y1="232.7" y2="232.7"/>
</g>
<circle cx="707.2" cy="232.7" r="3.5" fill="#000" fill-opacity="0.38" stroke="#000" stroke-opacity="0.58" stroke-width="1.5"/>
<text transform="translate(735.5,240.4)" font-size="20.6" fill="#000" stroke="#000" stroke-width="0.45">0.5 <tspan dy="1.5">−</tspan><tspan dy="-1.5"> </tspan>0.8</text>
<g stroke="#1d3539" stroke-width="1.7">
<line x1="707.2" x2="707.2" y1="251.7" y2="278.1" stroke="#1c1c1c" stroke-width="1.9"/>
<rect x="694.9" y="256.5" width="24.6" height="16.7" fill="#6cbdc6"/>
<line x1="694.9" x2="719.5" y1="264.9" y2="264.9"/>
</g>
<circle cx="707.2" cy="264.9" r="3.5" fill="#000" fill-opacity="0.38" stroke="#000" stroke-opacity="0.58" stroke-width="1.5"/>
<text transform="translate(735.5,272.6)" font-size="20.6" fill="#000" stroke="#000" stroke-width="0.45">0.8 <tspan dy="1.5">−</tspan><tspan dy="-1.5"> </tspan>0.9</text>
<g stroke="#37284d" stroke-width="1.7">
<line x1="707.2" x2="707.2" y1="283.9" y2="310.3" stroke="#1c1c1c" stroke-width="1.9"/>
<rect x="694.9" y="288.7" width="24.6" height="16.7" fill="#b47bf7"/>
<line x1="694.9" x2="719.5" y1="297.1" y2="297.1"/>
</g>
<circle cx="707.2" cy="297.1" r="3.5" fill="#000" fill-opacity="0.38" stroke="#000" stroke-opacity="0.58" stroke-width="1.5"/>
<text transform="translate(735.5,304.8)" font-size="20.6" fill="#000" stroke="#000" stroke-width="0.45">&gt;0.9</text>
</g>
<g id="panel-a-right">
<rect x="945.2" y="7.5" width="544.5" height="445.5" fill="#fff"/>
<g stroke="#efefef" stroke-width="1.5">
<line x1="945.2" x2="1489.7" y1="379.93" y2="379.93"/>
<line x1="945.2" x2="1489.7" y1="272.79" y2="272.79"/>
<line x1="945.2" x2="1489.7" y1="165.65" y2="165.65"/>
<line x1="945.2" x2="1489.7" y1="58.51" y2="58.51"/>
</g>
<g stroke="#e8e8e8" stroke-width="2.0">
<line x1="945.2" x2="1489.7" y1="433.5" y2="433.5"/>
<line x1="945.2" x2="1489.7" y1="326.36" y2="326.36"/>
<line x1="945.2" x2="1489.7" y1="219.22" y2="219.22"/>
<line x1="945.2" x2="1489.7" y1="112.08" y2="112.08"/>
<line x1="1022.8" x2="1022.8" y1="7.5" y2="453"/>
<line x1="1152.3" x2="1152.3" y1="7.5" y2="453"/>
<line x1="1282" x2="1282" y1="7.5" y2="453"/>
<line x1="1411.8" x2="1411.8" y1="7.5" y2="453"/>
</g>
<g fill="none">
<path d="M1022.8 191.2V310.7M1022.8 392V433.2" stroke="#1a1a1a" stroke-width="1.9"/>
<rect x="974" y="310.7" width="97.6" height="81.3" fill="#de746e" stroke="#3f2321" stroke-width="1.5"/>
<line x1="974" x2="1071.6" y1="358.3" y2="358.3" stroke="#3f2321" stroke-width="3.4"/>
</g>
<g fill="none">
<path d="M1152.3 212.5V284.7M1152.3 374.5V421.3" stroke="#1a1a1a" stroke-width="1.9"/>
<rect x="1103.5" y="284.7" width="97.6" height="89.8" fill="#8cac2a" stroke="#2b3510" stroke-width="1.5"/>
<line x1="1103.5" x2="1201.1" y1="337.3" y2="337.3" stroke="#2b3510" stroke-width="3.4"/>
</g>
<g fill="none">
<path d="M1282 262V297.2M1282 360V381.3" stroke="#1a1a1a" stroke-width="1.9"/>
<rect x="1233.2" y="297.2" width="97.6" height="62.8" fill="#6cbdc6" stroke="#1d3539" stroke-width="1.5"/>
<line x1="1233.2" x2="1330.8" y1="330.6" y2="330.6" stroke="#1d3539" stroke-width="3.4"/>
</g>
<g fill="none">
<path d="M1411.8 27.5V194.7M1411.8 336.7V421.3" stroke="#1a1a1a" stroke-width="1.9"/>
<rect x="1363" y="194.7" width="97.6" height="142" fill="#b47bf7" stroke="#37284d" stroke-width="1.5"/>
<line x1="1363" x2="1460.6" y1="293" y2="293" stroke="#37284d" stroke-width="3.4"/>
</g>
<g fill="#000" fill-opacity="0.38" stroke="#000" stroke-opacity="0.58" stroke-width="1.5">
<circle cx="1006.6" cy="190.6" r="3.5"/>
<circle cx="1014.9" cy="199.2" r="3.5"/>
<circle cx="997.2" cy="204.7" r="3.5"/>
<circle cx="1040.7" cy="212.1" r="3.5"/>
<circle cx="1007.4" cy="217.2" r="3.5"/>
<circle cx="1046.2" cy="219.9" r="3.5"/>
<circle cx="1029" cy="220.3" r="3.5"/>
<circle cx="1016" cy="221.1" r="3.5"/>
<circle cx="1022.3" cy="221.9" r="3.5"/>
<circle cx="996.9" cy="228.6" r="3.5"/>
<circle cx="1039.5" cy="230.5" r="3.5"/>
<circle cx="1015.3" cy="230.1" r="3.5"/>
<circle cx="1020.7" cy="230.1" r="3.5"/>
<circle cx="1020.1" cy="229.4" r="3.5"/>
<circle cx="1027" cy="229.7" r="3.5"/>
<circle cx="1009.8" cy="234" r="3.5"/>
<circle cx="1001.9" cy="234.8" r="3.5"/>
<circle cx="1001" cy="234.5" r="3.5"/>
<circle cx="1026.2" cy="234.8" r="3.5"/>
<circle cx="1026.8" cy="234.5" r="3.5"/>
<circle cx="1034.8" cy="236.8" r="3.5"/>
<circle cx="1040.3" cy="239.1" r="3.5"/>
<circle cx="1040.8" cy="239.9" r="3.5"/>
<circle cx="1041.3" cy="239.4" r="3.5"/>
<circle cx="1022.3" cy="239.9" r="3.5"/>
<circle cx="1028.6" cy="238" r="3.5"/>
<circle cx="1002.3" cy="240.7" r="3.5"/>
<circle cx="1009.8" cy="241.1" r="3.5"/>
<circle cx="1014.5" cy="243.8" r="3.5"/>
<circle cx="1009.8" cy="246.6" r="3.5"/>
<circle cx="1037.2" cy="243.8" r="3.5"/>
<circle cx="1041.9" cy="246.6" r="3.5"/>
<circle cx="998.4" cy="251.7" r="3.5"/>
<circle cx="1000" cy="251.7" r="3.5"/>
<circle cx="1026.2" cy="253.6" r="3.5"/>
<circle cx="1036" cy="251.3" r="3.5"/>
<circle cx="1042.7" cy="252.1" r="3.5"/>
<circle cx="1042.8" cy="252.6" r="3.5"/>
<circle cx="1045.4" cy="254" r="3.5"/>
<circle cx="1031.7" cy="255.2" r="3.5"/>
<circle cx="999.6" cy="258.3" r="3.5"/>
<circle cx="1008.2" cy="260.7" r="3.5"/>
<circle cx="1032.5" cy="259.9" r="3.5"/>
<circle cx="1034" cy="260.5" r="3.5"/>
<circle cx="1021.5" cy="261.5" r="3.5"/>
<circle cx="1026.2" cy="265.4" r="3.5"/>
<circle cx="1027.6" cy="264.3" r="3.5"/>
<circle cx="1026" cy="266" r="3.5"/>
<circle cx="1031.7" cy="264.6" r="3.5"/>
<circle cx="1048.2" cy="262.6" r="3.5"/>
<circle cx="997.2" cy="266.2" r="3.5"/>
<circle cx="998" cy="267.2" r="3.5"/>
<circle cx="996.5" cy="265.6" r="3.5"/>
<circle cx="999.6" cy="268.5" r="3.5"/>
<circle cx="999.3" cy="268.2" r="3.5"/>
<circle cx="1009.8" cy="268.5" r="3.5"/>
<circle cx="1033.3" cy="271.3" r="3.5"/>
<circle cx="1005.9" cy="276.7" r="3.5"/>
<circle cx="1004.6" cy="276.4" r="3.5"/>
<circle cx="1019.2" cy="277.1" r="3.5"/>
<circle cx="1019.6" cy="277.9" r="3.5"/>
<circle cx="1023.1" cy="277.1" r="3.5"/>
<circle cx="1046.2" cy="280.7" r="3.5"/>
<circle cx="1045.3" cy="281" r="3.5"/>
<circle cx="1047" cy="279.6" r="3.5"/>
<circle cx="1013.7" cy="281" r="3.5"/>
<circle cx="1031.7" cy="281" r="3.5"/>
<circle cx="1037.2" cy="281.8" r="3.5"/>
<circle cx="1007" cy="283.7" r="3.5"/>
<circle cx="1026.2" cy="284.1" r="3.5"/>
<circle cx="1003.1" cy="286.4" r="3.5"/>
<circle cx="1001.6" cy="285.4" r="3.5"/>
<circle cx="1003.7" cy="287.8" r="3.5"/>
<circle cx="1046.6" cy="285.3" r="3.5"/>
<circle cx="1046.2" cy="284.7" r="3.5"/>
<circle cx="1020.7" cy="288.4" r="3.5"/>
<circle cx="1029.8" cy="289.2" r="3.5"/>
<circle cx="1038" cy="286.8" r="3.5"/>
<circle cx="997.6" cy="295.1" r="3.5"/>
<circle cx="1002.7" cy="297.4" r="3.5"/>
<circle cx="1014.9" cy="293.9" r="3.5"/>
<circle cx="1026.2" cy="296.6" r="3.5"/>
<circle cx="1026.6" cy="296" r="3.5"/>
<circle cx="1024.8" cy="295.8" r="3.5"/>
<circle cx="1041.9" cy="294.3" r="3.5"/>
<circle cx="1036.4" cy="297.4" r="3.5"/>
<circle cx="1036.7" cy="297.3" r="3.5"/>
<circle cx="1035.9" cy="297.1" r="3.5"/>
<circle cx="1047.4" cy="296.6" r="3.5"/>
<circle cx="1046.2" cy="297.5" r="3.5"/>
<circle cx="1022.3" cy="299.8" r="3.5"/>
<circle cx="1021.9" cy="300.4" r="3.5"/>
<circle cx="1028.6" cy="300.5" r="3.5"/>
<circle cx="1044.2" cy="301.3" r="3.5"/>
<circle cx="1044.5" cy="302.6" r="3.5"/>
<circle cx="1010.6" cy="302.9" r="3.5"/>
<circle cx="996.5" cy="305.6" r="3.5"/>
<circle cx="1004.3" cy="306.8" r="3.5"/>
<circle cx="1005.2" cy="305.6" r="3.5"/>
<circle cx="1012.9" cy="307.6" r="3.5"/>
<circle cx="1012.8" cy="306" r="3.5"/>
<circle cx="1037.2" cy="304.5" r="3.5"/>
<circle cx="1038" cy="303.6" r="3.5"/>
<circle cx="1041.9" cy="305.2" r="3.5"/>
<circle cx="1043.4" cy="304.4" r="3.5"/>
<circle cx="1019.2" cy="306.8" r="3.5"/>
<circle cx="1019.2" cy="306.8" r="3.5"/>
<circle cx="1028.6" cy="309.2" r="3.5"/>
<circle cx="1047.7" cy="98" r="3.5"/>
<circle cx="1028.5" cy="142.5" r="3.5"/>
<circle cx="1039.2" cy="145.7" r="3.5"/>
<circle cx="1039.9" cy="358.4" r="3.5"/>
<circle cx="1001.6" cy="324.4" r="3.5"/>
<circle cx="998.9" cy="367.7" r="3.5"/>
<circle cx="1032.5" cy="371.6" r="3.5"/>
<circle cx="1037.5" cy="319.4" r="3.5"/>
<circle cx="999.9" cy="363.7" r="3.5"/>
<circle cx="996.6" cy="337" r="3.5"/>
<circle cx="1028.8" cy="387.8" r="3.5"/>
<circle cx="1047.7" cy="334.8" r="3.5"/>
<circle cx="1013" cy="310.8" r="3.5"/>
<circle cx="1002.9" cy="345.4" r="3.5"/>
<circle cx="1030.2" cy="328.6" r="3.5"/>
<circle cx="1001.7" cy="365.9" r="3.5"/>
<circle cx="1031.8" cy="350.5" r="3.5"/>
<circle cx="1003.9" cy="325.3" r="3.5"/>
<circle cx="1010.6" cy="379.8" r="3.5"/>
<circle cx="1045.1" cy="312.9" r="3.5"/>
<circle cx="1045.7" cy="384.8" r="3.5"/>
<circle cx="1038.1" cy="328.4" r="3.5"/>
<circle cx="1047.3" cy="376.1" r="3.5"/>
<circle cx="1003.8" cy="312" r="3.5"/>
<circle cx="1016.3" cy="357.1" r="3.5"/>
<circle cx="997.8" cy="388.2" r="3.5"/>
<circle cx="1031.8" cy="351.9" r="3.5"/>
<circle cx="1022.3" cy="317.7" r="3.5"/>
<circle cx="1035.8" cy="370.5" r="3.5"/>
<circle cx="997.7" cy="376" r="3.5"/>
<circle cx="1015.1" cy="386.4" r="3.5"/>
<circle cx="1006.8" cy="336.5" r="3.5"/>
<circle cx="1000.2" cy="322.5" r="3.5"/>
<circle cx="1021.3" cy="354.8" r="3.5"/>
<circle cx="1025.8" cy="320" r="3.5"/>
<circle cx="997.8" cy="321.2" r="3.5"/>
<circle cx="1043.7" cy="320.3" r="3.5"/>
<circle cx="1032.4" cy="355.1" r="3.5"/>
<circle cx="1028" cy="386.8" r="3.5"/>
<circle cx="1009.9" cy="367.3" r="3.5"/>
<circle cx="1023.7" cy="339.6" r="3.5"/>
<circle cx="1017.6" cy="325.8" r="3.5"/>
<circle cx="1001.8" cy="385.5" r="3.5"/>
<circle cx="1030.1" cy="323.1" r="3.5"/>
<circle cx="1038.7" cy="324.3" r="3.5"/>
<circle cx="1031.3" cy="357.7" r="3.5"/>
<circle cx="1038.3" cy="343.2" r="3.5"/>
<circle cx="1020.1" cy="319" r="3.5"/>
<circle cx="1035.5" cy="361.9" r="3.5"/>
<circle cx="1038.7" cy="364.7" r="3.5"/>
<circle cx="1031.3" cy="355.3" r="3.5"/>
<circle cx="1038" cy="357.9" r="3.5"/>
<circle cx="1010.3" cy="340" r="3.5"/>
<circle cx="1012.8" cy="333.2" r="3.5"/>
<circle cx="1022" cy="317.7" r="3.5"/>
<circle cx="1021.4" cy="357.8" r="3.5"/>
<circle cx="1014.9" cy="351.1" r="3.5"/>
<circle cx="1049" cy="384.8" r="3.5"/>
<circle cx="1000.5" cy="387.5" r="3.5"/>
<circle cx="1038.2" cy="376.4" r="3.5"/>
<circle cx="1038.7" cy="326.3" r="3.5"/>
<circle cx="1003.4" cy="362.3" r="3.5"/>
<circle cx="1040" cy="317.5" r="3.5"/>
<circle cx="997.3" cy="387.6" r="3.5"/>
<circle cx="1040.7" cy="310.1" r="3.5"/>
<circle cx="1028.4" cy="327.7" r="3.5"/>
<circle cx="1029.9" cy="311.1" r="3.5"/>
<circle cx="1030.5" cy="317.3" r="3.5"/>
<circle cx="1019.8" cy="314.8" r="3.5"/>
<circle cx="1013.7" cy="348" r="3.5"/>
<circle cx="1031.1" cy="361.6" r="3.5"/>
<circle cx="1024" cy="379.8" r="3.5"/>
<circle cx="1018.1" cy="321" r="3.5"/>
<circle cx="1032.5" cy="338.6" r="3.5"/>
<circle cx="1045.6" cy="341.4" r="3.5"/>
<circle cx="997.2" cy="337.5" r="3.5"/>
<circle cx="1046.9" cy="348.7" r="3.5"/>
<circle cx="1039.7" cy="339.5" r="3.5"/>
<circle cx="1028.4" cy="315.3" r="3.5"/>
<circle cx="1007.1" cy="317.6" r="3.5"/>
<circle cx="1017.6" cy="335.8" r="3.5"/>
<circle cx="1009.1" cy="331.3" r="3.5"/>
<circle cx="997.8" cy="319.1" r="3.5"/>
<circle cx="1016.5" cy="383.6" r="3.5"/>
<circle cx="1006.4" cy="342.8" r="3.5"/>
<circle cx="997.2" cy="357.9" r="3.5"/>
<circle cx="1018.6" cy="336.5" r="3.5"/>
<circle cx="1017.9" cy="324.3" r="3.5"/>
<circle cx="1033.9" cy="386.5" r="3.5"/>
<circle cx="1044.1" cy="339.4" r="3.5"/>
<circle cx="997.1" cy="372.8" r="3.5"/>
<circle cx="1020.7" cy="354.3" r="3.5"/>
<circle cx="1030.9" cy="376.4" r="3.5"/>
<circle cx="1003.4" cy="312.5" r="3.5"/>
<circle cx="1005.2" cy="321.8" r="3.5"/>
<circle cx="1045.9" cy="356" r="3.5"/>
<circle cx="997.9" cy="335.4" r="3.5"/>
<circle cx="1018.1" cy="378.3" r="3.5"/>
<circle cx="1018.2" cy="354.4" r="3.5"/>
<circle cx="1010.4" cy="335.8" r="3.5"/>
<circle cx="1000.7" cy="374" r="3.5"/>
<circle cx="1022.2" cy="369.7" r="3.5"/>
<circle cx="1026.5" cy="316.4" r="3.5"/>
<circle cx="1010.6" cy="335.6" r="3.5"/>
<circle cx="1037.6" cy="337.8" r="3.5"/>
<circle cx="1047.2" cy="375.1" r="3.5"/>
<circle cx="1032.8" cy="353.1" r="3.5"/>
<circle cx="1032.8" cy="337.1" r="3.5"/>
<circle cx="1001.9" cy="380.2" r="3.5"/>
<circle cx="1020.6" cy="388.5" r="3.5"/>
<circle cx="1034.9" cy="356.7" r="3.5"/>
<circle cx="1018.9" cy="365.9" r="3.5"/>
<circle cx="1009.2" cy="338.3" r="3.5"/>
<circle cx="1013.3" cy="376.9" r="3.5"/>
<circle cx="1046.4" cy="317.1" r="3.5"/>
<circle cx="997.8" cy="338.3" r="3.5"/>
<circle cx="1032.3" cy="345.3" r="3.5"/>
<circle cx="1036.4" cy="389.4" r="3.5"/>
<circle cx="1031.5" cy="364.3" r="3.5"/>
<circle cx="1004" cy="357.6" r="3.5"/>
<circle cx="1029.4" cy="325.2" r="3.5"/>
<circle cx="997.9" cy="365.3" r="3.5"/>
<circle cx="1048.6" cy="362.7" r="3.5"/>
<circle cx="1007" cy="381.2" r="3.5"/>
<circle cx="1013.2" cy="337.3" r="3.5"/>
<circle cx="1039.2" cy="374.9" r="3.5"/>
<circle cx="1045.4" cy="382.4" r="3.5"/>
<circle cx="996.6" cy="328" r="3.5"/>
<circle cx="1027.1" cy="328.2" r="3.5"/>
<circle cx="1036.2" cy="387.3" r="3.5"/>
<circle cx="1033.7" cy="389" r="3.5"/>
<circle cx="1021" cy="320.3" r="3.5"/>
<circle cx="1023.6" cy="387.7" r="3.5"/>
<circle cx="1028.7" cy="335.7" r="3.5"/>
<circle cx="1001.7" cy="320.1" r="3.5"/>
<circle cx="1002.9" cy="368" r="3.5"/>
<circle cx="1013.7" cy="345.1" r="3.5"/>
<circle cx="1047.7" cy="336.6" r="3.5"/>
<circle cx="1030.8" cy="338" r="3.5"/>
<circle cx="1016.7" cy="344.4" r="3.5"/>
<circle cx="1019.8" cy="318.7" r="3.5"/>
<circle cx="1030.2" cy="355.2" r="3.5"/>
<circle cx="1002.4" cy="389.9" r="3.5"/>
<circle cx="1048.3" cy="331.8" r="3.5"/>
<circle cx="1014.4" cy="373.8" r="3.5"/>
<circle cx="1023.1" cy="356" r="3.5"/>
<circle cx="1036.6" cy="371.4" r="3.5"/>
<circle cx="1010.4" cy="349.4" r="3.5"/>
<circle cx="1039" cy="382.3" r="3.5"/>
<circle cx="1042" cy="375.4" r="3.5"/>
<circle cx="1031.1" cy="311.2" r="3.5"/>
<circle cx="1015.7" cy="367.9" r="3.5"/>
<circle cx="1009.3" cy="314.2" r="3.5"/>
<circle cx="1048.8" cy="369.4" r="3.5"/>
<circle cx="1020.1" cy="311.7" r="3.5"/>
<circle cx="1032.2" cy="383.1" r="3.5"/>
<circle cx="1023.7" cy="355.7" r="3.5"/>
<circle cx="1001.3" cy="335.6" r="3.5"/>
<circle cx="1013.5" cy="378" r="3.5"/>
<circle cx="1027.4" cy="355.1" r="3.5"/>
<circle cx="1007" cy="366.7" r="3.5"/>
<circle cx="1003.7" cy="343.9" r="3.5"/>
<circle cx="1043" cy="381" r="3.5"/>
<circle cx="1046.1" cy="325.1" r="3.5"/>
<circle cx="1044" cy="347.9" r="3.5"/>
<circle cx="1005.1" cy="383.4" r="3.5"/>
<circle cx="1046.4" cy="389.8" r="3.5"/>
<circle cx="1048.2" cy="369.6" r="3.5"/>
<circle cx="1039.5" cy="385.6" r="3.5"/>
<circle cx="1019.1" cy="385.3" r="3.5"/>
<circle cx="1018.2" cy="388.8" r="3.5"/>
<circle cx="997" cy="337.2" r="3.5"/>
<circle cx="1010.9" cy="310" r="3.5"/>
<circle cx="1002.2" cy="330.2" r="3.5"/>
<circle cx="1041.7" cy="326.9" r="3.5"/>
<circle cx="1033.2" cy="391.3" r="3.5"/>
<circle cx="997" cy="368" r="3.5"/>
<circle cx="1003.6" cy="324.3" r="3.5"/>
<circle cx="1012.7" cy="385.2" r="3.5"/>
<circle cx="1042.5" cy="316.6" r="3.5"/>
<circle cx="1038" cy="316" r="3.5"/>
<circle cx="1015.3" cy="392" r="3.5"/>
<circle cx="1042.7" cy="318.1" r="3.5"/>
<circle cx="1031.9" cy="380.3" r="3.5"/>
<circle cx="1025.8" cy="386.4" r="3.5"/>
<circle cx="1043.6" cy="322.6" r="3.5"/>
<circle cx="999.5" cy="325.4" r="3.5"/>
<circle cx="1030.9" cy="358.9" r="3.5"/>
<circle cx="1030.8" cy="342.2" r="3.5"/>
<circle cx="1031.3" cy="378.4" r="3.5"/>
<circle cx="1032" cy="315" r="3.5"/>
<circle cx="1013.7" cy="346.8" r="3.5"/>
<circle cx="1016.2" cy="378.2" r="3.5"/>
<circle cx="1010.5" cy="386.6" r="3.5"/>
<circle cx="996.8" cy="344" r="3.5"/>
<circle cx="1034.4" cy="371.7" r="3.5"/>
<circle cx="997.1" cy="318.6" r="3.5"/>
<circle cx="1000.2" cy="355.9" r="3.5"/>
<circle cx="1001.5" cy="341.9" r="3.5"/>
<circle cx="1011.3" cy="317.5" r="3.5"/>
<circle cx="1016.2" cy="345.1" r="3.5"/>
<circle cx="1026.9" cy="337.7" r="3.5"/>
<circle cx="1000.1" cy="336.3" r="3.5"/>
<circle cx="1032.9" cy="309.3" r="3.5"/>
<circle cx="1023.9" cy="310.6" r="3.5"/>
<circle cx="1041.9" cy="325.3" r="3.5"/>
<circle cx="1024.5" cy="316.6" r="3.5"/>
<circle cx="1044.5" cy="374.5" r="3.5"/>
<circle cx="1043.4" cy="309.6" r="3.5"/>
<circle cx="1038.8" cy="313.1" r="3.5"/>
<circle cx="1042.2" cy="391.7" r="3.5"/>
<circle cx="1034.2" cy="359.3" r="3.5"/>
<circle cx="1035" cy="316.2" r="3.5"/>
<circle cx="1041.8" cy="316.3" r="3.5"/>
<circle cx="1009" cy="331.4" r="3.5"/>
<circle cx="1032.6" cy="341.7" r="3.5"/>
<circle cx="1016.8" cy="350.7" r="3.5"/>
<circle cx="1036" cy="378.7" r="3.5"/>
<circle cx="999.3" cy="316.8" r="3.5"/>
<circle cx="1002.5" cy="370.9" r="3.5"/>
<circle cx="1000.9" cy="371.8" r="3.5"/>
<circle cx="996.6" cy="366" r="3.5"/>
<circle cx="1009.5" cy="362.5" r="3.5"/>
<circle cx="1036.4" cy="363.3" r="3.5"/>
<circle cx="1000.4" cy="310.7" r="3.5"/>
<circle cx="1016.6" cy="384.3" r="3.5"/>
<circle cx="1021.2" cy="377.1" r="3.5"/>
<circle cx="1007.4" cy="319.2" r="3.5"/>
<circle cx="1044.7" cy="344.2" r="3.5"/>
<circle cx="1019.8" cy="334.8" r="3.5"/>
<circle cx="1009.3" cy="380.5" r="3.5"/>
<circle cx="1034.6" cy="385.3" r="3.5"/>
<circle cx="1018.4" cy="390.4" r="3.5"/>
<circle cx="1001.3" cy="378.5" r="3.5"/>
<circle cx="1011" cy="331.6" r="3.5"/>
<circle cx="1003.7" cy="376.3" r="3.5"/>
<circle cx="1033.2" cy="374.4" r="3.5"/>
<circle cx="1030.2" cy="330.7" r="3.5"/>
<circle cx="1001.1" cy="330.5" r="3.5"/>
<circle cx="1037.9" cy="310.6" r="3.5"/>
<circle cx="1024.5" cy="335.7" r="3.5"/>
<circle cx="1011.6" cy="336.8" r="3.5"/>
<circle cx="1027.6" cy="323" r="3.5"/>
<circle cx="1004.8" cy="379.5" r="3.5"/>
<circle cx="1036.1" cy="338.9" r="3.5"/>
<circle cx="1045.5" cy="374.4" r="3.5"/>
<circle cx="1019.8" cy="361.7" r="3.5"/>
<circle cx="1015.4" cy="367.9" r="3.5"/>
<circle cx="1023.7" cy="311.3" r="3.5"/>
<circle cx="1031.9" cy="381.3" r="3.5"/>
<circle cx="1021.9" cy="322.3" r="3.5"/>
<circle cx="1012.1" cy="334.1" r="3.5"/>
<circle cx="1003.1" cy="345.5" r="3.5"/>
<circle cx="1047.7" cy="371.8" r="3.5"/>
<circle cx="1045.6" cy="315.2" r="3.5"/>
<circle cx="1045.1" cy="384.8" r="3.5"/>
<circle cx="1039.1" cy="319.6" r="3.5"/>
<circle cx="1042.1" cy="390.2" r="3.5"/>
<circle cx="1035.4" cy="351.7" r="3.5"/>
<circle cx="1014.5" cy="381.9" r="3.5"/>
<circle cx="1027.9" cy="335.8" r="3.5"/>
<circle cx="1000.8" cy="310.4" r="3.5"/>
<circle cx="1033.4" cy="333.5" r="3.5"/>
<circle cx="1003.4" cy="334.5" r="3.5"/>
<circle cx="1020.8" cy="379.3" r="3.5"/>
<circle cx="1021.4" cy="319.7" r="3.5"/>
<circle cx="1040" cy="365" r="3.5"/>
<circle cx="1025.2" cy="383.6" r="3.5"/>
<circle cx="1017.8" cy="341.1" r="3.5"/>
<circle cx="999.4" cy="366.7" r="3.5"/>
<circle cx="1029.1" cy="387.6" r="3.5"/>
<circle cx="996.9" cy="343.3" r="3.5"/>
<circle cx="1019.5" cy="343.5" r="3.5"/>
<circle cx="998.8" cy="376.6" r="3.5"/>
<circle cx="998.8" cy="362.1" r="3.5"/>
<circle cx="1012.9" cy="344.2" r="3.5"/>
<circle cx="1040.5" cy="325.9" r="3.5"/>
<circle cx="1023.4" cy="331.1" r="3.5"/>
<circle cx="1028.5" cy="354.2" r="3.5"/>
<circle cx="1031.5" cy="316.9" r="3.5"/>
<circle cx="1029.7" cy="364" r="3.5"/>
<circle cx="1000.1" cy="389.4" r="3.5"/>
<circle cx="1041.2" cy="374.8" r="3.5"/>
<circle cx="1037.8" cy="350.5" r="3.5"/>
<circle cx="1044.6" cy="321.9" r="3.5"/>
<circle cx="1035.5" cy="390.1" r="3.5"/>
<circle cx="999.8" cy="362.8" r="3.5"/>
<circle cx="1047.6" cy="320.8" r="3.5"/>
<circle cx="1025.9" cy="383.5" r="3.5"/>
<circle cx="1010.3" cy="326.4" r="3.5"/>
<circle cx="1034.2" cy="374.9" r="3.5"/>
<circle cx="1045.9" cy="363.2" r="3.5"/>
<circle cx="999.3" cy="377.2" r="3.5"/>
<circle cx="1034.3" cy="390.2" r="3.5"/>
<circle cx="1025.4" cy="321" r="3.5"/>
<circle cx="1023.4" cy="355.1" r="3.5"/>
<circle cx="1036" cy="324.9" r="3.5"/>
<circle cx="1025.5" cy="313.1" r="3.5"/>
<circle cx="1048.2" cy="310.9" r="3.5"/>
<circle cx="1024.9" cy="323.5" r="3.5"/>
<circle cx="1010.9" cy="342.4" r="3.5"/>
<circle cx="1009.8" cy="330.7" r="3.5"/>
<circle cx="1012.7" cy="350.4" r="3.5"/>
<circle cx="1046.7" cy="326.4" r="3.5"/>
<circle cx="1005.6" cy="312.6" r="3.5"/>
<circle cx="1044.6" cy="374" r="3.5"/>
<circle cx="1040.1" cy="321.4" r="3.5"/>
<circle cx="1024.4" cy="369.8" r="3.5"/>
<circle cx="1006.7" cy="383.9" r="3.5"/>
<circle cx="1027.6" cy="359.8" r="3.5"/>
<circle cx="997.2" cy="322.6" r="3.5"/>
<circle cx="1021.8" cy="315.8" r="3.5"/>
<circle cx="1027.7" cy="324.8" r="3.5"/>
<circle cx="1032.4" cy="342.6" r="3.5"/>
<circle cx="1031" cy="330.7" r="3.5"/>
<circle cx="1003" cy="364.1" r="3.5"/>
<circle cx="1039.8" cy="326.5" r="3.5"/>
<circle cx="998.4" cy="381.1" r="3.5"/>
<circle cx="1036" cy="372.7" r="3.5"/>
<circle cx="1038" cy="343.6" r="3.5"/>
<circle cx="1046.4" cy="376" r="3.5"/>
<circle cx="1036.2" cy="387.1" r="3.5"/>
<circle cx="1044.2" cy="355.9" r="3.5"/>
<circle cx="999.5" cy="358" r="3.5"/>
<circle cx="1022.5" cy="310.4" r="3.5"/>
<circle cx="1013" cy="377.1" r="3.5"/>
<circle cx="1029.3" cy="386.2" r="3.5"/>
<circle cx="1036.2" cy="324.4" r="3.5"/>
<circle cx="1033.9" cy="312.9" r="3.5"/>
<circle cx="1047.5" cy="313" r="3.5"/>
<circle cx="1035.5" cy="317.4" r="3.5"/>
<circle cx="1041.8" cy="376.8" r="3.5"/>
<circle cx="1023.4" cy="355.7" r="3.5"/>
<circle cx="1008" cy="339.2" r="3.5"/>
<circle cx="1004.3" cy="341.7" r="3.5"/>
<circle cx="1003.7" cy="361.6" r="3.5"/>
<circle cx="1022.4" cy="338.5" r="3.5"/>
<circle cx="1014.7" cy="388" r="3.5"/>
<circle cx="1046.3" cy="390.3" r="3.5"/>
<circle cx="1015.5" cy="315.8" r="3.5"/>
<circle cx="1005" cy="380.4" r="3.5"/>
<circle cx="1046.7" cy="327.5" r="3.5"/>
<circle cx="1003.8" cy="339.9" r="3.5"/>
<circle cx="1037.9" cy="414.5" r="3.5"/>
<circle cx="1041.5" cy="392.7" r="3.5"/>
<circle cx="1002.2" cy="409.9" r="3.5"/>
<circle cx="1030.2" cy="409" r="3.5"/>
<circle cx="1041.3" cy="418.9" r="3.5"/>
<circle cx="1003.5" cy="422.7" r="3.5"/>
<circle cx="1028.4" cy="422.4" r="3.5"/>
<circle cx="1035.1" cy="415.3" r="3.5"/>
<circle cx="1016.7" cy="426.7" r="3.5"/>
<circle cx="1045.1" cy="431.4" r="3.5"/>
<circle cx="1012.4" cy="400.8" r="3.5"/>
<circle cx="1047.1" cy="401.9" r="3.5"/>
<circle cx="1020.1" cy="414.6" r="3.5"/>
<circle cx="1018.4" cy="414.7" r="3.5"/>
<circle cx="1016" cy="416.3" r="3.5"/>
<circle cx="1047.8" cy="423.6" r="3.5"/>
<circle cx="1047.1" cy="409.4" r="3.5"/>
<circle cx="1008.2" cy="415.2" r="3.5"/>
<circle cx="1045.2" cy="409.4" r="3.5"/>
<circle cx="1008.9" cy="428.7" r="3.5"/>
<circle cx="1047.9" cy="394.8" r="3.5"/>
<circle cx="1039.7" cy="432.3" r="3.5"/>
<circle cx="1012.1" cy="406.8" r="3.5"/>
<circle cx="1036.9" cy="410.3" r="3.5"/>
<circle cx="1012.7" cy="407.1" r="3.5"/>
<circle cx="1044.1" cy="433.3" r="3.5"/>
<circle cx="1013.3" cy="403.1" r="3.5"/>
<circle cx="1044.2" cy="400" r="3.5"/>
<circle cx="1002" cy="405.8" r="3.5"/>
<circle cx="1040.1" cy="427.1" r="3.5"/>
<circle cx="1046.4" cy="409.4" r="3.5"/>
<circle cx="998.8" cy="393.9" r="3.5"/>
<circle cx="1001.8" cy="429.9" r="3.5"/>
<circle cx="1019.1" cy="412.9" r="3.5"/>
<circle cx="1007" cy="413.6" r="3.5"/>
<circle cx="1009.8" cy="430.9" r="3.5"/>
<circle cx="1041.9" cy="421.7" r="3.5"/>
<circle cx="1026.1" cy="422.2" r="3.5"/>
<circle cx="1000.9" cy="407" r="3.5"/>
<circle cx="1042.8" cy="424.8" r="3.5"/>
<circle cx="1013.1" cy="407.9" r="3.5"/>
<circle cx="1003.8" cy="392" r="3.5"/>
<circle cx="1046.4" cy="399.6" r="3.5"/>
<circle cx="1038.6" cy="399.4" r="3.5"/>
<circle cx="1020.4" cy="414.5" r="3.5"/>
<circle cx="1003.8" cy="392.2" r="3.5"/>
<circle cx="1015.8" cy="426.8" r="3.5"/>
<circle cx="1008.1" cy="409.9" r="3.5"/>
<circle cx="1017.2" cy="413.3" r="3.5"/>
<circle cx="1007.7" cy="394" r="3.5"/>
<circle cx="1013.8" cy="432.5" r="3.5"/>
<circle cx="1027" cy="410.7" r="3.5"/>
<circle cx="1004.3" cy="417.4" r="3.5"/>
<circle cx="1022.7" cy="394.8" r="3.5"/>
<circle cx="1022.8" cy="406" r="3.5"/>
<circle cx="997" cy="410.6" r="3.5"/>
<circle cx="1007.2" cy="396.4" r="3.5"/>
<circle cx="1032.5" cy="414.9" r="3.5"/>
<circle cx="1042.5" cy="407.1" r="3.5"/>
<circle cx="1024.1" cy="428.9" r="3.5"/>
<circle cx="1010.5" cy="410.7" r="3.5"/>
<circle cx="1022" cy="406.9" r="3.5"/>
<circle cx="1025.9" cy="424.6" r="3.5"/>
<circle cx="1042.3" cy="409.1" r="3.5"/>
<circle cx="1019.8" cy="402.2" r="3.5"/>
<circle cx="1024" cy="400.6" r="3.5"/>
<circle cx="1000.2" cy="403" r="3.5"/>
<circle cx="1001.1" cy="404.4" r="3.5"/>
<circle cx="1013.7" cy="404.9" r="3.5"/>
<circle cx="1045.3" cy="423.6" r="3.5"/>
<circle cx="1010.2" cy="429.5" r="3.5"/>
<circle cx="1021.8" cy="392.6" r="3.5"/>
<circle cx="1021.1" cy="395.5" r="3.5"/>
<circle cx="1010.9" cy="431.8" r="3.5"/>
<circle cx="1024.4" cy="432.8" r="3.5"/>
<circle cx="1019.7" cy="405.8" r="3.5"/>
<circle cx="1037" cy="416.5" r="3.5"/>
<circle cx="1041.7" cy="411.9" r="3.5"/>
<circle cx="1042.2" cy="429.3" r="3.5"/>
<circle cx="1000.4" cy="419.7" r="3.5"/>
<circle cx="1000.4" cy="406.6" r="3.5"/>
<circle cx="1003.2" cy="418.2" r="3.5"/>
<circle cx="1003" cy="395.6" r="3.5"/>
<circle cx="1035.1" cy="420.1" r="3.5"/>
<circle cx="1040.9" cy="429.6" r="3.5"/>
<circle cx="1033.9" cy="426.3" r="3.5"/>
<circle cx="1011.6" cy="410.9" r="3.5"/>
<circle cx="1025.1" cy="408.5" r="3.5"/>
<circle cx="1020.8" cy="411.9" r="3.5"/>
<circle cx="1023.7" cy="393.6" r="3.5"/>
<circle cx="1004.3" cy="424" r="3.5"/>
<circle cx="1041.9" cy="400.6" r="3.5"/>
<circle cx="1042.6" cy="410.4" r="3.5"/>
<circle cx="1047.9" cy="412.6" r="3.5"/>
<circle cx="1002.6" cy="423.7" r="3.5"/>
<circle cx="1002.8" cy="420.8" r="3.5"/>
<circle cx="1048.8" cy="422.8" r="3.5"/>
<circle cx="1039.2" cy="409.6" r="3.5"/>
<circle cx="999.8" cy="401.3" r="3.5"/>
<circle cx="1041.6" cy="424.7" r="3.5"/>
<circle cx="1026.7" cy="400.4" r="3.5"/>
<circle cx="1021.6" cy="425.9" r="3.5"/>
<circle cx="1002.2" cy="429.4" r="3.5"/>
<circle cx="1000.6" cy="421.9" r="3.5"/>
<circle cx="997.5" cy="427.4" r="3.5"/>
<circle cx="1013" cy="414.8" r="3.5"/>
<circle cx="998.8" cy="419.6" r="3.5"/>
<circle cx="1048.9" cy="404.5" r="3.5"/>
<circle cx="1040.5" cy="398.3" r="3.5"/>
<circle cx="998.4" cy="419.6" r="3.5"/>
<circle cx="999.9" cy="397.5" r="3.5"/>
<circle cx="1013.1" cy="413.5" r="3.5"/>
<circle cx="1009.1" cy="397.2" r="3.5"/>
<circle cx="1002.4" cy="407.2" r="3.5"/>
<circle cx="999.8" cy="414.4" r="3.5"/>
<circle cx="998" cy="413.5" r="3.5"/>
<circle cx="1013.1" cy="393.6" r="3.5"/>
<circle cx="997.7" cy="416.1" r="3.5"/>
<circle cx="1033.9" cy="399.5" r="3.5"/>
<circle cx="1026.5" cy="395.5" r="3.5"/>
<circle cx="1021" cy="425.8" r="3.5"/>
<circle cx="1006.4" cy="411.2" r="3.5"/>
<circle cx="1043.9" cy="403.1" r="3.5"/>
<circle cx="1037.6" cy="395.2" r="3.5"/>
<circle cx="1042.1" cy="404" r="3.5"/>
<circle cx="1018.1" cy="405.7" r="3.5"/>
<circle cx="1006.6" cy="405.6" r="3.5"/>
<circle cx="1040.6" cy="415.8" r="3.5"/>
<circle cx="1040.8" cy="415.6" r="3.5"/>
<circle cx="1032.1" cy="415" r="3.5"/>
<circle cx="1007.6" cy="412.3" r="3.5"/>
<circle cx="1014.6" cy="401.5" r="3.5"/>
<circle cx="1013.1" cy="430.1" r="3.5"/>
<circle cx="1047" cy="432.1" r="3.5"/>
<circle cx="1025.1" cy="403.4" r="3.5"/>
<circle cx="1015.7" cy="404.3" r="3.5"/>
<circle cx="1047" cy="427.8" r="3.5"/>
<circle cx="1037.8" cy="413.5" r="3.5"/>
<circle cx="1043.2" cy="421.7" r="3.5"/>
<circle cx="1046.2" cy="417" r="3.5"/>
<circle cx="1040.6" cy="417.1" r="3.5"/>
<circle cx="1025.3" cy="426" r="3.5"/>
<circle cx="1019.9" cy="426.9" r="3.5"/>
<circle cx="1010" cy="432.4" r="3.5"/>
<circle cx="1034.9" cy="400.1" r="3.5"/>
<circle cx="1001.6" cy="397.5" r="3.5"/>
<circle cx="1019.3" cy="431.3" r="3.5"/>
<circle cx="1009" cy="414.5" r="3.5"/>
<circle cx="1019.6" cy="399.1" r="3.5"/>
<circle cx="998.9" cy="427.2" r="3.5"/>
<circle cx="1036.5" cy="393.9" r="3.5"/>
<circle cx="1020.2" cy="405.2" r="3.5"/>
<circle cx="1033.2" cy="393.9" r="3.5"/>
<circle cx="1044.2" cy="418.8" r="3.5"/>
<circle cx="1017.4" cy="425.9" r="3.5"/>
<circle cx="1001.2" cy="418.4" r="3.5"/>
<circle cx="1018.8" cy="427.9" r="3.5"/>
<circle cx="1004.4" cy="426.4" r="3.5"/>
<circle cx="1040.8" cy="400.5" r="3.5"/>
<circle cx="1009.9" cy="417.4" r="3.5"/>
<circle cx="1011.4" cy="412.1" r="3.5"/>
<circle cx="1024.5" cy="408.3" r="3.5"/>
<circle cx="1039.1" cy="425.1" r="3.5"/>
<circle cx="1001.8" cy="420.7" r="3.5"/>
<circle cx="1042.7" cy="417.3" r="3.5"/>
<circle cx="1046.9" cy="416.4" r="3.5"/>
<circle cx="1021.1" cy="408.6" r="3.5"/>
<circle cx="1027.1" cy="419.4" r="3.5"/>
<circle cx="1048.6" cy="398.2" r="3.5"/>
<circle cx="1013.6" cy="429" r="3.5"/>
<circle cx="1026" cy="394.6" r="3.5"/>
<circle cx="1004.4" cy="393.6" r="3.5"/>
<circle cx="1040.9" cy="397.6" r="3.5"/>
<circle cx="1016.1" cy="405.6" r="3.5"/>
<circle cx="1033.1" cy="395" r="3.5"/>
<circle cx="997" cy="399.1" r="3.5"/>
<circle cx="1026.3" cy="406.6" r="3.5"/>
<circle cx="1000.5" cy="403.8" r="3.5"/>
<circle cx="1034" cy="392.8" r="3.5"/>
<circle cx="1040.3" cy="396.4" r="3.5"/>
</g>
<g fill="#000" fill-opacity="0.38" stroke="#000" stroke-opacity="0.58" stroke-width="1.5">
<circle cx="1156.5" cy="70.5" r="3.5"/>
<circle cx="1162.2" cy="149.2" r="3.5"/>
<circle cx="1146.2" cy="212.7" r="3.5"/>
<circle cx="1170" cy="214.7" r="3.5"/>
<circle cx="1177" cy="218" r="3.5"/>
<circle cx="1162.5" cy="224.2" r="3.5"/>
<circle cx="1159" cy="239.5" r="3.5"/>
<circle cx="1176.5" cy="240.5" r="3.5"/>
<circle cx="1131.2" cy="258.7" r="3.5"/>
<circle cx="1132.5" cy="284.5" r="3.5"/>
<circle cx="1137" cy="287" r="3.5"/>
<circle cx="1153.7" cy="284.5" r="3.5"/>
<circle cx="1156.2" cy="286" r="3.5"/>
<circle cx="1160.8" cy="291.2" r="3.5"/>
<circle cx="1167.3" cy="299.7" r="3.5"/>
<circle cx="1173" cy="306.7" r="3.5"/>
<circle cx="1141.2" cy="311.7" r="3.5"/>
<circle cx="1171.6" cy="315" r="3.5"/>
<circle cx="1147.5" cy="322.7" r="3.5"/>
<circle cx="1176" cy="333.7" r="3.5"/>
<circle cx="1130.5" cy="337.2" r="3.5"/>
<circle cx="1161.6" cy="337.2" r="3.5"/>
<circle cx="1143.7" cy="342.2" r="3.5"/>
<circle cx="1159.6" cy="352.7" r="3.5"/>
<circle cx="1143.7" cy="356.5" r="3.5"/>
<circle cx="1154.3" cy="362.2" r="3.5"/>
<circle cx="1148.2" cy="364.2" r="3.5"/>
<circle cx="1137" cy="364.5" r="3.5"/>
<circle cx="1127.2" cy="366.2" r="3.5"/>
<circle cx="1136.7" cy="370" r="3.5"/>
<circle cx="1159.8" cy="372.8" r="3.5"/>
<circle cx="1163.6" cy="375" r="3.5"/>
<circle cx="1149.5" cy="382.5" r="3.5"/>
<circle cx="1175.5" cy="386" r="3.5"/>
<circle cx="1167.5" cy="390.6" r="3.5"/>
<circle cx="1160.6" cy="391.7" r="3.5"/>
<circle cx="1127.2" cy="392.2" r="3.5"/>
<circle cx="1148" cy="394.2" r="3.5"/>
<circle cx="1128" cy="401.7" r="3.5"/>
<circle cx="1138.2" cy="401.7" r="3.5"/>
<circle cx="1132.2" cy="418.2" r="3.5"/>
<circle cx="1140.2" cy="421.2" r="3.5"/>
</g>
<g fill="#000" fill-opacity="0.38" stroke="#000" stroke-opacity="0.58" stroke-width="1.5">
<circle cx="1293.2" cy="114.7" r="3.5"/>
<circle cx="1287" cy="261.2" r="3.5"/>
<circle cx="1265.7" cy="268.7" r="3.5"/>
<circle cx="1291" cy="297" r="3.5"/>
<circle cx="1291.2" cy="322.2" r="3.5"/>
<circle cx="1260.2" cy="326.2" r="3.5"/>
<circle cx="1272.2" cy="330.7" r="3.5"/>
<circle cx="1283.2" cy="337" r="3.5"/>
<circle cx="1295" cy="339.5" r="3.5"/>
<circle cx="1273.2" cy="359.5" r="3.5"/>
<circle cx="1298.5" cy="368.5" r="3.5"/>
<circle cx="1281.2" cy="381.2" r="3.5"/>
<circle cx="1296.2" cy="385" r="3.5"/>
</g>
<g fill="#000" fill-opacity="0.38" stroke="#000" stroke-opacity="0.58" stroke-width="1.5">
<circle cx="1423" cy="27" r="3.5"/>
<circle cx="1410.7" cy="88.2" r="3.5"/>
<circle cx="1386.5" cy="115.7" r="3.5"/>
<circle cx="1398.5" cy="126.2" r="3.5"/>
<circle cx="1412" cy="152" r="3.5"/>
<circle cx="1427.7" cy="150.7" r="3.5"/>
<circle cx="1432.5" cy="166" r="3.5"/>
<circle cx="1411.7" cy="169.2" r="3.5"/>
<circle cx="1422.7" cy="184.7" r="3.5"/>
<circle cx="1436.2" cy="190" r="3.5"/>
<circle cx="1436.2" cy="192.5" r="3.5"/>
<circle cx="1418.2" cy="193" r="3.5"/>
<circle cx="1409.2" cy="195.2" r="3.5"/>
<circle cx="1434.5" cy="196.7" r="3.5"/>
<circle cx="1437" cy="196.7" r="3.5"/>
<circle cx="1427.2" cy="199.5" r="3.5"/>
<circle cx="1418.5" cy="202.7" r="3.5"/>
<circle cx="1411" cy="230" r="3.5"/>
<circle cx="1388.5" cy="232.5" r="3.5"/>
<circle cx="1410.5" cy="236.5" r="3.5"/>
<circle cx="1404" cy="243" r="3.5"/>
<circle cx="1432" cy="259.2" r="3.5"/>
<circle cx="1429.7" cy="270" r="3.5"/>
<circle cx="1421" cy="279.7" r="3.5"/>
<circle cx="1408.7" cy="293.2" r="3.5"/>
<circle cx="1398.7" cy="294.7" r="3.5"/>
<circle cx="1420" cy="305.7" r="3.5"/>
<circle cx="1430.7" cy="306.2" r="3.5"/>
<circle cx="1436" cy="309.2" r="3.5"/>
<circle cx="1393.5" cy="311.5" r="3.5"/>
<circle cx="1409.5" cy="316.2" r="3.5"/>
<circle cx="1437.7" cy="317.2" r="3.5"/>
<circle cx="1422" cy="326.5" r="3.5"/>
<circle cx="1390.2" cy="332" r="3.5"/>
<circle cx="1386.5" cy="335.2" r="3.5"/>
<circle cx="1431.5" cy="336.5" r="3.5"/>
<circle cx="1436.7" cy="336.5" r="3.5"/>
<circle cx="1391.2" cy="348.7" r="3.5"/>
<circle cx="1402.7" cy="349.2" r="3.5"/>
<circle cx="1431" cy="349.7" r="3.5"/>
<circle cx="1428.2" cy="364.7" r="3.5"/>
<circle cx="1426.7" cy="367.5" r="3.5"/>
<circle cx="1407" cy="369.5" r="3.5"/>
<circle cx="1408" cy="369.5" r="3.5"/>
<circle cx="1399.7" cy="389.2" r="3.5"/>
<circle cx="1390.5" cy="398.7" r="3.5"/>
<circle cx="1398.2" cy="399.5" r="3.5"/>
<circle cx="1401.5" cy="409.2" r="3.5"/>
<circle cx="1389.2" cy="421.7" r="3.5"/>
</g>
<rect x="945.2" y="7.5" width="544.5" height="445.5" fill="none" stroke="#3d3d3d" stroke-width="1.3"/>
<path d="M938 433.5H945.2M938 326.36H945.2M938 219.22H945.2M938 112.08H945.2" stroke="#2b2b2b" stroke-width="1.6" fill="none"/>
<text transform="translate(932.8,440.75)" font-size="20.8" text-anchor="end" fill="#4d4d4d" stroke="#4d4d4d" stroke-width="0.4">0</text>
<text transform="translate(932.8,333.61)" font-size="20.8" text-anchor="end" fill="#4d4d4d" stroke="#4d4d4d" stroke-width="0.4">1</text>
<text transform="translate(932.8,226.47)" font-size="20.8" text-anchor="end" fill="#4d4d4d" stroke="#4d4d4d" stroke-width="0.4">2</text>
<text transform="translate(932.8,119.33)" font-size="20.8" text-anchor="end" fill="#4d4d4d" stroke="#4d4d4d" stroke-width="0.4">3</text>
<path d="M1022.8 453V460.2M1152.3 453V460.2M1282 453V460.2M1411.8 453V460.2" stroke="#2b2b2b" stroke-width="2.0" fill="none"/>
<text transform="translate(1022.8,480.2)" font-size="20.8" text-anchor="middle" fill="#4d4d4d" stroke="#4d4d4d" stroke-width="0.4">&lt;0.5</text>
<text transform="translate(1152.3,480.2)" font-size="20.8" text-anchor="middle" fill="#4d4d4d" stroke="#4d4d4d" stroke-width="0.4">0.5 <tspan dy="1.5">−</tspan><tspan dy="-1.5"> </tspan>0.8</text>
<text transform="translate(1282,480.2)" font-size="20.8" text-anchor="middle" fill="#4d4d4d" stroke="#4d4d4d" stroke-width="0.4">0.8 <tspan dy="1.5">−</tspan><tspan dy="-1.5"> </tspan>0.9</text>
<text transform="translate(1411.8,480.2)" font-size="20.8" text-anchor="middle" fill="#4d4d4d" stroke="#4d4d4d" stroke-width="0.4">&gt;0.9</text>
<text transform="translate(1217,510.4)" font-size="25.9" text-anchor="middle" fill="#000" stroke="#000" stroke-width="0.45">Coloc H4 probability</text>
<text transform="translate(910.9,230.5) rotate(-90)" font-size="25.9" text-anchor="middle" fill="#000" stroke="#000" stroke-width="0.45">Total score w/o coloc</text>
</g>
<text transform="translate(4.3,23.7)" font-size="40.5" font-weight="bold" fill="#000">a</text>
<text transform="translate(5,606.8) scale(1,1.07)" font-size="41" font-weight="bold" fill="#000">b</text>
<g id="panel-b">
<text transform="translate(93.4,600.3)" font-size="34.45" fill="#000" stroke="#000" stroke-width="0.45">Total score (excl coloc) of colocalising genes by cell type group</text>
<rect x="93.2" y="621.2" width="1439.3" height="523" fill="#fff"/>
<g stroke="#efefef" stroke-width="1.6">
<line x1="93.2" x2="1532.5" y1="1070.3" y2="1070.3"/>
<line x1="93.2" x2="1532.5" y1="940.9" y2="940.9"/>
<line x1="93.2" x2="1532.5" y1="811.5" y2="811.5"/>
<line x1="93.2" x2="1532.5" y1="682.1" y2="682.1"/>
</g>
<g stroke="#e8e8e8" stroke-width="2.3">
<line x1="93.2" x2="1532.5" y1="1135" y2="1135"/>
<line x1="93.2" x2="1532.5" y1="1005.6" y2="1005.6"/>
<line x1="93.2" x2="1532.5" y1="876.2" y2="876.2"/>
<line x1="93.2" x2="1532.5" y1="746.8" y2="746.8"/>
<line x1="198.5" x2="198.5" y1="621.2" y2="1144.2"/>
<line x1="374" x2="374" y1="621.2" y2="1144.2"/>
<line x1="549.5" x2="549.5" y1="621.2" y2="1144.2"/>
<line x1="725" x2="725" y1="621.2" y2="1144.2"/>
<line x1="900.5" x2="900.5" y1="621.2" y2="1144.2"/>
<line x1="1076" x2="1076" y1="621.2" y2="1144.2"/>
<line x1="1251.5" x2="1251.5" y1="621.2" y2="1144.2"/>
<line x1="1427" x2="1427" y1="621.2" y2="1144.2"/>
</g>
<g fill="none">
<path d="M198.5 793.7V848.2M198.5 1052V1054" stroke="#242424" stroke-width="2.4"/>
<rect x="132.3" y="848.2" width="132.4" height="203.8" fill="#b9d6e4" stroke="#22282b" stroke-width="2.5"/>
<line x1="132.3" x2="264.7" y1="987.7" y2="987.7" stroke="#22282b" stroke-width="5.2"/>
</g>
<g fill="none">
<path d="M374 644.5V799.2M374 995V1052" stroke="#242424" stroke-width="2.4"/>
<rect x="307.8" y="799.2" width="132.4" height="195.8" fill="#b9d6e4" stroke="#22282b" stroke-width="2.5"/>
<line x1="307.8" x2="440.2" y1="898.2" y2="898.2" stroke="#22282b" stroke-width="5.2"/>
</g>
<g fill="none">
<path d="M549.5 644.5V805M549.5 991.2V1121.2" stroke="#242424" stroke-width="2.4"/>
<rect x="483.3" y="805" width="132.4" height="186.2" fill="#b9d6e4" stroke="#22282b" stroke-width="2.5"/>
<line x1="483.3" x2="615.7" y1="897" y2="897" stroke="#22282b" stroke-width="5.2"/>
</g>
<g fill="none">
<path d="M725 644.5V845.5M725 1015.2V1093.7" stroke="#242424" stroke-width="2.4"/>
<rect x="658.8" y="845.5" width="132.4" height="169.7" fill="#b9d6e4" stroke="#22282b" stroke-width="2.5"/>
<line x1="658.8" x2="791.2" y1="896.7" y2="896.7" stroke="#22282b" stroke-width="5.2"/>
</g>
<g fill="none">
<path d="M900.5 644.5V843M900.5 990.5V1106" stroke="#242424" stroke-width="2.4"/>
<rect x="834.3" y="843" width="132.4" height="147.5" fill="#b9d6e4" stroke="#22282b" stroke-width="2.5"/>
<line x1="834.3" x2="966.7" y1="856.7" y2="856.7" stroke="#22282b" stroke-width="5.2"/>
</g>
<g fill="none">
<path d="M1076 644.5V729.5M1076 828.2V840.5" stroke="#242424" stroke-width="2.4"/>
<rect x="1009.8" y="729.5" width="132.4" height="98.7" fill="#b9d6e4" stroke="#22282b" stroke-width="2.5"/>
<line x1="1009.8" x2="1142.2" y1="815.5" y2="815.5" stroke="#22282b" stroke-width="5.2"/>
</g>
<g fill="none">
<path d="M1251.5 764.2V778.5M1251.5 805V815" stroke="#242424" stroke-width="2.4"/>
<rect x="1185.3" y="778.5" width="132.4" height="26.5" fill="#b9d6e4" stroke="#22282b" stroke-width="2.5"/>
<line x1="1185.3" x2="1317.7" y1="793.7" y2="793.7" stroke="#22282b" stroke-width="5.2"/>
</g>
<g fill="none">
<path d="M1427 644.5V703.5M1427 875.5V987.5" stroke="#242424" stroke-width="2.4"/>
<rect x="1360.8" y="703.5" width="132.4" height="172" fill="#b9d6e4" stroke="#22282b" stroke-width="2.5"/>
<line x1="1360.8" x2="1493.2" y1="764" y2="764" stroke="#22282b" stroke-width="5.2"/>
</g>
<g fill="#000" fill-opacity="0.45" stroke="#000" stroke-opacity="0.58" stroke-width="1.8">
<circle cx="161.2" cy="793.7" r="5.25"/>
<circle cx="231.5" cy="848.7" r="5.25"/>
<circle cx="221" cy="987.7" r="5.25"/>
<circle cx="160.7" cy="1055" r="5.25"/>
<circle cx="182.2" cy="1052" r="5.25"/>
</g>
<g fill="#000" fill-opacity="0.45" stroke="#000" stroke-opacity="0.58" stroke-width="1.8">
<circle cx="405" cy="644.5" r="5.25"/>
<circle cx="406.5" cy="751.5" r="5.25"/>
<circle cx="387.5" cy="815.2" r="5.25"/>
<circle cx="405.7" cy="847.5" r="5.25"/>
<circle cx="373.6" cy="949.2" r="5.25"/>
<circle cx="370.2" cy="987.7" r="5.25"/>
<circle cx="357" cy="1016.7" r="5.25"/>
<circle cx="365.7" cy="1052.1" r="5.25"/>
</g>
<g fill="#000" fill-opacity="0.45" stroke="#000" stroke-opacity="0.58" stroke-width="1.8">
<circle cx="562" cy="644.5" r="5.25"/>
<circle cx="571.7" cy="718" r="5.25"/>
<circle cx="532" cy="751.5" r="5.25"/>
<circle cx="570.7" cy="764" r="5.25"/>
<circle cx="523.7" cy="793.7" r="5.25"/>
<circle cx="560.2" cy="795" r="5.25"/>
<circle cx="527.7" cy="815.2" r="5.25"/>
<circle cx="530.7" cy="834.5" r="5.25"/>
<circle cx="533.2" cy="847.5" r="5.25"/>
<circle cx="565.2" cy="840.7" r="5.25"/>
<circle cx="519.5" cy="889.5" r="5.25"/>
<circle cx="534" cy="897" r="5.25"/>
<circle cx="575.2" cy="937.5" r="5.25"/>
<circle cx="567.5" cy="965.7" r="5.25"/>
<circle cx="568" cy="981" r="5.25"/>
<circle cx="568" cy="981" r="5.25"/>
<circle cx="541" cy="987.5" r="5.25"/>
<circle cx="510.5" cy="995" r="5.25"/>
<circle cx="547.5" cy="1016.7" r="5.25"/>
<circle cx="555.5" cy="1034.2" r="5.25"/>
<circle cx="583.7" cy="1057.7" r="5.25"/>
<circle cx="550.7" cy="1093.2" r="5.25"/>
<circle cx="506.2" cy="1121.2" r="5.25"/>
</g>
<g fill="#000" fill-opacity="0.45" stroke="#000" stroke-opacity="0.58" stroke-width="1.8">
<circle cx="686.2" cy="644.5" r="5.25"/>
<circle cx="741.5" cy="751.5" r="5.25"/>
<circle cx="720" cy="764" r="5.25"/>
<circle cx="713.2" cy="795" r="5.25"/>
<circle cx="737.5" cy="812.2" r="5.25"/>
<circle cx="765" cy="834.5" r="5.25"/>
<circle cx="758.2" cy="843.2" r="5.25"/>
<circle cx="695" cy="848.2" r="5.25"/>
<circle cx="698" cy="847" r="5.25"/>
<circle cx="725.5" cy="853" r="5.25"/>
<circle cx="759.2" cy="856.5" r="5.25"/>
<circle cx="681.2" cy="891.7" r="5.25"/>
<circle cx="704.7" cy="889.2" r="5.25"/>
<circle cx="702" cy="897" r="5.25"/>
<circle cx="728" cy="924.7" r="5.25"/>
<circle cx="704" cy="967.7" r="5.25"/>
<circle cx="727" cy="985" r="5.25"/>
<circle cx="729.5" cy="988" r="5.25"/>
<circle cx="722.5" cy="1005.7" r="5.25"/>
<circle cx="761.2" cy="1011.5" r="5.25"/>
<circle cx="687.5" cy="1018" r="5.25"/>
<circle cx="755" cy="1018.2" r="5.25"/>
<circle cx="762.5" cy="1033.2" r="5.25"/>
<circle cx="695.7" cy="1052" r="5.25"/>
<circle cx="684.2" cy="1057" r="5.25"/>
<circle cx="693.5" cy="1081.2" r="5.25"/>
<circle cx="767.7" cy="1094.2" r="5.25"/>
</g>
<g fill="#000" fill-opacity="0.45" stroke="#000" stroke-opacity="0.58" stroke-width="1.8">
<circle cx="888" cy="644.5" r="5.25"/>
<circle cx="862.2" cy="794.7" r="5.25"/>
<circle cx="921" cy="793.5" r="5.25"/>
<circle cx="870.5" cy="812.2" r="5.25"/>
<circle cx="934.5" cy="840.7" r="5.25"/>
<circle cx="871.2" cy="845.7" r="5.25"/>
<circle cx="868" cy="848.7" r="5.25"/>
<circle cx="904.5" cy="847.5" r="5.25"/>
<circle cx="919.2" cy="852.5" r="5.25"/>
<circle cx="932.7" cy="856.7" r="5.25"/>
<circle cx="933.2" cy="889.2" r="5.25"/>
<circle cx="901" cy="891.7" r="5.25"/>
<circle cx="899.7" cy="905" r="5.25"/>
<circle cx="887.7" cy="987.5" r="5.25"/>
<circle cx="862" cy="994" r="5.25"/>
<circle cx="865.5" cy="1032.2" r="5.25"/>
<circle cx="896.2" cy="1057" r="5.25"/>
<circle cx="944" cy="1052" r="5.25"/>
<circle cx="906.5" cy="1105.7" r="5.25"/>
</g>
<g fill="#000" fill-opacity="0.45" stroke="#000" stroke-opacity="0.58" stroke-width="1.8">
<circle cx="1055.2" cy="644.5" r="5.25"/>
<circle cx="1048" cy="815.5" r="5.25"/>
<circle cx="1106.7" cy="840.7" r="5.25"/>
</g>
<g fill="#000" fill-opacity="0.45" stroke="#000" stroke-opacity="0.58" stroke-width="1.8">
<circle cx="1223.5" cy="764" r="5.25"/>
<circle cx="1238.7" cy="793.7" r="5.25"/>
<circle cx="1227.2" cy="815.2" r="5.25"/>
</g>
<g fill="#000" fill-opacity="0.45" stroke="#000" stroke-opacity="0.58" stroke-width="1.8">
<circle cx="1428.7" cy="644.5" r="5.25"/>
<circle cx="1386.2" cy="764" r="5.25"/>
<circle cx="1447" cy="988" r="5.25"/>
</g>
<rect x="93.2" y="621.2" width="1439.3" height="523" fill="none" stroke="#3d3d3d" stroke-width="1.6"/>
<path d="M85.2 1135H93.2M85.2 1005.6H93.2M85.2 876.2H93.2M85.2 746.8H93.2" stroke="#2b2b2b" stroke-width="2.2" fill="none"/>
<text transform="translate(79.7,1143.4)" font-size="23.7" text-anchor="end" fill="#4d4d4d" stroke="#4d4d4d" stroke-width="0.4">0</text>
<text transform="translate(79.7,1014)" font-size="23.7" text-anchor="end" fill="#4d4d4d" stroke="#4d4d4d" stroke-width="0.4">1</text>
<text transform="translate(79.7,884.6)" font-size="23.7" text-anchor="end" fill="#4d4d4d" stroke="#4d4d4d" stroke-width="0.4">2</text>
<text transform="translate(79.7,755.2)" font-size="23.7" text-anchor="end" fill="#4d4d4d" stroke="#4d4d4d" stroke-width="0.4">3</text>
<path d="M198.5 1144.2V1152.2M374 1144.2V1152.2M549.5 1144.2V1152.2M725 1144.2V1152.2M900.5 1144.2V1152.2M1076 1144.2V1152.2M1251.5 1144.2V1152.2M1427 1144.2V1152.2" stroke="#2b2b2b" stroke-width="2.3" fill="none"/>
<text transform="translate(207.8,1173.2) rotate(-35)" font-size="23.7" text-anchor="end" fill="#4d4d4d" stroke="#4d4d4d" stroke-width="0.4">LCL</text>
<text transform="translate(383.3,1173.2) rotate(-35)" font-size="23.7" text-anchor="end" fill="#4d4d4d" stroke="#4d4d4d" stroke-width="0.4">blood</text>
<text transform="translate(558.8,1173.2) rotate(-35)" font-size="23.7" text-anchor="end" fill="#4d4d4d" stroke="#4d4d4d" stroke-width="0.4"><tspan x="0" y="0">monocyte</tspan><tspan x="0" y="25.1">macrophage</tspan></text>
<text transform="translate(734.3,1173.2) rotate(-35)" font-size="23.7" text-anchor="end" fill="#4d4d4d" stroke="#4d4d4d" stroke-width="0.4">other</text>
<text transform="translate(909.8,1173.2) rotate(-35)" font-size="23.7" text-anchor="end" fill="#4d4d4d" stroke="#4d4d4d" stroke-width="0.4">brain</text>
<text transform="translate(1085.3,1173.2) rotate(-35)" font-size="23.7" text-anchor="end" fill="#4d4d4d" stroke="#4d4d4d" stroke-width="0.4">neutrophil</text>
<text transform="translate(1260.8,1173.2) rotate(-35)" font-size="23.7" text-anchor="end" fill="#4d4d4d" stroke="#4d4d4d" stroke-width="0.4">microglia</text>
<text transform="translate(1436.3,1173.2) rotate(-35)" font-size="23.7" text-anchor="end" fill="#4d4d4d" stroke="#4d4d4d" stroke-width="0.4">Bcell, Tcell</text>
<text transform="translate(812.5,1304.6)" font-size="29.3" text-anchor="middle" fill="#000" stroke="#000" stroke-width="0.45">QTL study cell type</text>
<text transform="translate(52.5,884) rotate(-90)" font-size="29.3" text-anchor="middle" fill="#000" stroke="#000" stroke-width="0.45">totalScore.noColoc</text>
</g>
</svg>
</body></html>
